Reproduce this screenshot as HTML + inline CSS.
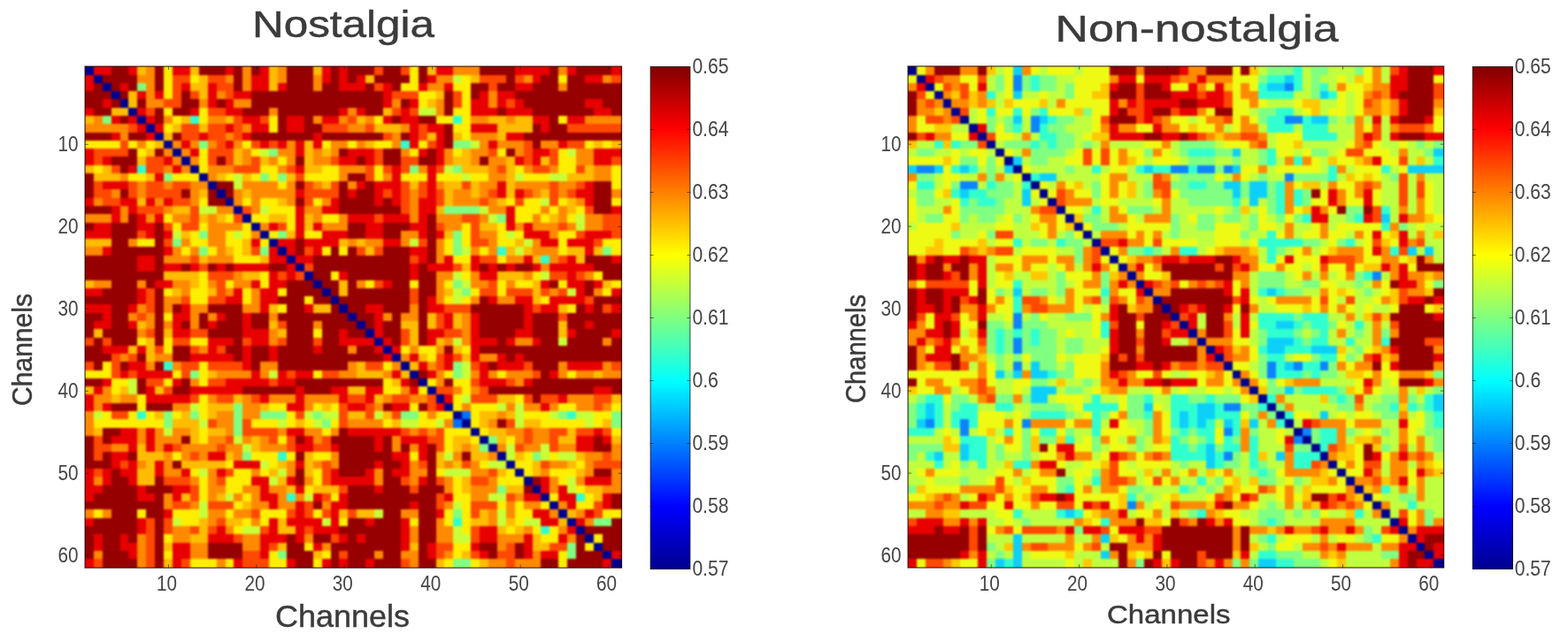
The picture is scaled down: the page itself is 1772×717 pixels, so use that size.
<!DOCTYPE html>
<html lang="en"><head><meta charset="utf-8"><title>Nostalgia vs Non-nostalgia channel connectivity</title>
<style>
html,body{margin:0;padding:0;background:#fff}
body{width:1772px;height:717px;position:relative;overflow:hidden;font-family:"Liberation Sans",sans-serif}
.hm{position:absolute;overflow:hidden}
.cb{position:absolute;background:linear-gradient(to bottom,#800000 0%,#ff0000 12.5%,#ffff00 37.5%,#00ffff 62.5%,#0000ff 87.5%,#00008f 100%)}
#ov{position:absolute;left:0;top:0}
#ov text{font-family:"Liberation Sans",sans-serif}
.h{fill:#3b3b3b;stroke:#3b3b3b;stroke-width:.45px}
.k{fill:#454545}
</style></head><body>
<div class="hm" style="left:96px;top:75px;width:606.9px;height:567.3px">
<svg style="position:absolute;left:-9.915px;top:-9.280px;filter:blur(1.3px);" width="624.645" height="584.640" viewBox="0 0 63 63" preserveAspectRatio="none" shape-rendering="crispEdges">
<rect width="63" height="63" fill="#960000"/>
<path fill="#00008f" d="M0 0h2v1h-2zM0 1h2v1h-2zM2 2h1v1h-1zM3 3h1v1h-1zM4 4h1v1h-1zM5 5h1v1h-1zM6 6h1v1h-1zM7 7h1v1h-1zM8 8h1v1h-1zM9 9h1v1h-1zM10 10h1v1h-1zM11 11h1v1h-1zM12 12h1v1h-1zM13 13h1v1h-1zM14 14h1v1h-1zM15 15h1v1h-1zM16 16h1v1h-1zM17 17h1v1h-1zM18 18h1v1h-1zM19 19h1v1h-1zM20 20h1v1h-1zM21 21h1v1h-1zM22 22h1v1h-1zM23 23h1v1h-1zM24 24h1v1h-1zM25 25h1v1h-1zM26 26h1v1h-1zM27 27h1v1h-1zM28 28h1v1h-1zM29 29h1v1h-1zM30 30h1v1h-1zM31 31h1v1h-1zM32 32h1v1h-1zM33 33h1v1h-1zM34 34h1v1h-1zM35 35h1v1h-1zM36 36h1v1h-1zM37 37h1v1h-1zM38 38h1v1h-1zM39 39h1v1h-1zM40 40h1v1h-1zM41 41h1v1h-1zM42 42h1v1h-1zM43 43h1v1h-1zM44 44h1v1h-1zM45 45h1v1h-1zM46 46h1v1h-1zM47 47h1v1h-1zM48 48h1v1h-1zM49 49h1v1h-1zM50 50h1v1h-1zM51 51h1v1h-1zM52 52h1v1h-1zM53 53h1v1h-1zM54 54h1v1h-1zM55 55h1v1h-1zM56 56h1v1h-1zM57 57h1v1h-1zM58 58h1v1h-1zM59 59h1v1h-1zM60 60h1v1h-1zM61 61h2v1h-2zM61 62h2v1h-2z"/>
<path fill="#e80000" d="M2 0h2v1h-2zM6 0h1v1h-1zM11 0h2v1h-2zM17 0h1v1h-1zM21 0h1v1h-1zM28 0h1v1h-1zM30 0h1v1h-1zM41 0h2v1h-2zM50 0h4v1h-4zM56 0h1v1h-1zM61 0h2v1h-2zM2 1h2v1h-2zM6 1h1v1h-1zM11 1h2v1h-2zM17 1h1v1h-1zM21 1h1v1h-1zM28 1h1v1h-1zM30 1h1v1h-1zM41 1h2v1h-2zM50 1h4v1h-4zM56 1h1v1h-1zM61 1h2v1h-2zM0 2h2v1h-2zM20 2h2v1h-2zM28 2h1v1h-1zM30 2h1v1h-1zM32 2h1v1h-1zM40 2h1v1h-1zM52 2h1v1h-1zM58 2h2v1h-2zM0 3h2v1h-2zM5 3h1v1h-1zM12 3h1v1h-1zM15 3h1v1h-1zM20 3h2v1h-2zM23 3h1v1h-1zM30 3h3v1h-3zM35 3h1v1h-1zM39 3h1v1h-1zM42 3h1v1h-1zM50 3h2v1h-2zM7 4h1v1h-1zM9 4h1v1h-1zM15 4h1v1h-1zM18 4h2v1h-2zM35 4h1v1h-1zM46 4h1v1h-1zM48 4h2v1h-2zM3 5h1v1h-1zM15 5h1v1h-1zM17 5h1v1h-1zM35 5h1v1h-1zM38 5h1v1h-1zM45 5h2v1h-2zM48 5h1v1h-1zM50 5h1v1h-1zM58 5h2v1h-2zM0 6h2v1h-2zM7 6h1v1h-1zM13 6h1v1h-1zM17 6h2v1h-2zM30 6h1v1h-1zM32 6h1v1h-1zM37 6h1v1h-1zM45 6h3v1h-3zM49 6h3v1h-3zM59 6h2v1h-2zM4 7h1v1h-1zM6 7h1v1h-1zM8 7h1v1h-1zM19 7h2v1h-2zM24 7h2v1h-2zM28 7h2v1h-2zM35 7h1v1h-1zM37 7h2v1h-2zM52 7h2v1h-2zM56 7h2v1h-2zM7 8h1v1h-1zM9 8h1v1h-1zM17 8h1v1h-1zM20 8h2v1h-2zM24 8h2v1h-2zM38 8h1v1h-1zM40 8h2v1h-2zM45 8h3v1h-3zM53 8h1v1h-1zM4 9h1v1h-1zM8 9h1v1h-1zM14 9h1v1h-1zM19 9h1v1h-1zM27 9h1v1h-1zM38 9h1v1h-1zM41 9h1v1h-1zM49 9h2v1h-2zM12 10h1v1h-1zM17 10h1v1h-1zM21 10h1v1h-1zM23 10h1v1h-1zM25 10h1v1h-1zM27 10h1v1h-1zM38 10h1v1h-1zM41 10h1v1h-1zM47 10h1v1h-1zM55 10h1v1h-1zM0 11h2v1h-2zM13 11h1v1h-1zM25 11h1v1h-1zM31 11h3v1h-3zM39 11h1v1h-1zM41 11h1v1h-1zM52 11h2v1h-2zM59 11h4v1h-4zM0 12h2v1h-2zM3 12h1v1h-1zM10 12h1v1h-1zM30 12h2v1h-2zM33 12h1v1h-1zM41 12h1v1h-1zM50 12h1v1h-1zM52 12h1v1h-1zM59 12h2v1h-2zM6 13h1v1h-1zM11 13h1v1h-1zM25 13h1v1h-1zM36 13h1v1h-1zM40 13h1v1h-1zM9 14h1v1h-1zM36 14h1v1h-1zM40 14h1v1h-1zM3 15h3v1h-3zM32 15h1v1h-1zM34 15h3v1h-3zM40 15h1v1h-1zM48 15h1v1h-1zM58 15h1v1h-1zM25 16h1v1h-1zM31 16h1v1h-1zM34 16h1v1h-1zM36 16h1v1h-1zM40 16h1v1h-1zM48 16h1v1h-1zM50 16h1v1h-1zM57 16h2v1h-2zM0 17h2v1h-2zM5 17h2v1h-2zM8 17h1v1h-1zM10 17h1v1h-1zM29 17h1v1h-1zM34 17h1v1h-1zM36 17h1v1h-1zM39 17h2v1h-2zM58 17h1v1h-1zM4 18h1v1h-1zM6 18h1v1h-1zM25 18h1v1h-1zM28 18h2v1h-2zM39 18h2v1h-2zM49 18h1v1h-1zM61 18h2v1h-2zM4 19h1v1h-1zM7 19h1v1h-1zM9 19h1v1h-1zM25 19h1v1h-1zM31 19h3v1h-3zM35 19h3v1h-3zM39 19h1v1h-1zM49 19h1v1h-1zM2 20h2v1h-2zM7 20h2v1h-2zM22 20h1v1h-1zM25 20h1v1h-1zM27 20h1v1h-1zM33 20h2v1h-2zM38 20h2v1h-2zM49 20h1v1h-1zM51 20h1v1h-1zM0 21h4v1h-4zM8 21h1v1h-1zM10 21h1v1h-1zM25 21h1v1h-1zM28 21h3v1h-3zM33 21h2v1h-2zM39 21h1v1h-1zM41 21h1v1h-1zM51 21h3v1h-3zM58 21h3v1h-3zM20 22h1v1h-1zM23 22h2v1h-2zM26 22h4v1h-4zM35 22h2v1h-2zM53 22h2v1h-2zM56 22h3v1h-3zM3 23h1v1h-1zM10 23h1v1h-1zM22 23h1v1h-1zM24 23h1v1h-1zM27 23h1v1h-1zM38 23h2v1h-2zM58 23h1v1h-1zM7 24h2v1h-2zM22 24h2v1h-2zM25 24h2v1h-2zM39 24h1v1h-1zM42 24h1v1h-1zM45 24h1v1h-1zM51 24h1v1h-1zM56 24h1v1h-1zM61 24h2v1h-2zM7 25h2v1h-2zM10 25h2v1h-2zM13 25h1v1h-1zM16 25h1v1h-1zM18 25h4v1h-4zM24 25h1v1h-1zM38 25h1v1h-1zM40 25h3v1h-3zM45 25h1v1h-1zM47 25h1v1h-1zM49 25h1v1h-1zM52 25h1v1h-1zM54 25h5v1h-5zM22 26h1v1h-1zM24 26h1v1h-1zM30 26h1v1h-1zM38 26h1v1h-1zM46 26h2v1h-2zM56 26h1v1h-1zM9 27h2v1h-2zM20 27h1v1h-1zM22 27h2v1h-2zM35 27h1v1h-1zM53 27h1v1h-1zM56 27h2v1h-2zM59 27h1v1h-1zM0 28h3v1h-3zM7 28h1v1h-1zM18 28h1v1h-1zM21 28h2v1h-2zM57 28h1v1h-1zM61 28h2v1h-2zM7 29h1v1h-1zM17 29h2v1h-2zM21 29h2v1h-2zM40 29h1v1h-1zM47 29h1v1h-1zM50 29h2v1h-2zM54 29h4v1h-4zM0 30h4v1h-4zM6 30h1v1h-1zM12 30h1v1h-1zM21 30h1v1h-1zM26 30h1v1h-1zM33 30h2v1h-2zM40 30h2v1h-2zM51 30h1v1h-1zM53 30h2v1h-2zM58 30h1v1h-1zM61 30h2v1h-2zM3 31h1v1h-1zM11 31h2v1h-2zM16 31h1v1h-1zM19 31h1v1h-1zM34 31h1v1h-1zM42 31h1v1h-1zM45 31h1v1h-1zM51 31h1v1h-1zM2 32h2v1h-2zM6 32h1v1h-1zM11 32h1v1h-1zM15 32h1v1h-1zM19 32h1v1h-1zM34 32h1v1h-1zM42 32h1v1h-1zM45 32h1v1h-1zM51 32h1v1h-1zM58 32h1v1h-1zM11 33h2v1h-2zM19 33h3v1h-3zM30 33h1v1h-1zM34 33h1v1h-1zM40 33h2v1h-2zM45 33h1v1h-1zM50 33h2v1h-2zM56 33h1v1h-1zM61 33h2v1h-2zM15 34h3v1h-3zM20 34h2v1h-2zM30 34h4v1h-4zM35 34h1v1h-1zM40 34h1v1h-1zM45 34h3v1h-3zM49 34h1v1h-1zM52 34h1v1h-1zM3 35h3v1h-3zM7 35h1v1h-1zM15 35h1v1h-1zM19 35h1v1h-1zM22 35h1v1h-1zM27 35h1v1h-1zM34 35h1v1h-1zM36 35h1v1h-1zM45 35h1v1h-1zM13 36h5v1h-5zM19 36h1v1h-1zM22 36h1v1h-1zM35 36h1v1h-1zM38 36h1v1h-1zM42 36h1v1h-1zM45 36h1v1h-1zM48 36h1v1h-1zM50 36h1v1h-1zM6 37h2v1h-2zM19 37h1v1h-1zM39 37h1v1h-1zM42 37h1v1h-1zM46 37h1v1h-1zM48 37h3v1h-3zM56 37h4v1h-4zM5 38h1v1h-1zM7 38h4v1h-4zM20 38h1v1h-1zM23 38h1v1h-1zM25 38h2v1h-2zM36 38h1v1h-1zM40 38h1v1h-1zM46 38h1v1h-1zM54 38h1v1h-1zM3 39h1v1h-1zM11 39h1v1h-1zM17 39h5v1h-5zM23 39h2v1h-2zM37 39h1v1h-1zM46 39h3v1h-3zM51 39h1v1h-1zM2 40h1v1h-1zM8 40h1v1h-1zM13 40h6v1h-6zM25 40h1v1h-1zM29 40h2v1h-2zM33 40h2v1h-2zM38 40h1v1h-1zM59 40h2v1h-2zM0 41h2v1h-2zM8 41h5v1h-5zM21 41h1v1h-1zM25 41h1v1h-1zM30 41h1v1h-1zM33 41h1v1h-1zM42 41h1v1h-1zM55 41h1v1h-1zM0 42h2v1h-2zM3 42h1v1h-1zM24 42h2v1h-2zM31 42h2v1h-2zM36 42h2v1h-2zM41 42h1v1h-1zM53 42h1v1h-1zM5 45h2v1h-2zM8 45h1v1h-1zM24 45h2v1h-2zM31 45h6v1h-6zM59 45h1v1h-1zM4 46h3v1h-3zM8 46h1v1h-1zM26 46h1v1h-1zM34 46h1v1h-1zM37 46h3v1h-3zM57 46h2v1h-2zM60 46h1v1h-1zM6 47h1v1h-1zM8 47h1v1h-1zM10 47h1v1h-1zM25 47h2v1h-2zM29 47h1v1h-1zM34 47h1v1h-1zM39 47h1v1h-1zM57 47h2v1h-2zM4 48h2v1h-2zM15 48h2v1h-2zM36 48h2v1h-2zM39 48h1v1h-1zM4 49h1v1h-1zM6 49h1v1h-1zM9 49h1v1h-1zM18 49h3v1h-3zM25 49h1v1h-1zM34 49h1v1h-1zM37 49h1v1h-1zM0 50h2v1h-2zM3 50h1v1h-1zM5 50h2v1h-2zM9 50h1v1h-1zM12 50h1v1h-1zM16 50h1v1h-1zM29 50h1v1h-1zM33 50h1v1h-1zM36 50h2v1h-2zM0 51h2v1h-2zM3 51h1v1h-1zM6 51h1v1h-1zM20 51h2v1h-2zM24 51h1v1h-1zM29 51h5v1h-5zM39 51h1v1h-1zM53 51h1v1h-1zM58 51h3v1h-3zM0 52h3v1h-3zM7 52h1v1h-1zM11 52h2v1h-2zM21 52h1v1h-1zM25 52h1v1h-1zM34 52h1v1h-1zM53 52h1v1h-1zM55 52h1v1h-1zM0 53h2v1h-2zM7 53h2v1h-2zM11 53h1v1h-1zM21 53h2v1h-2zM27 53h1v1h-1zM30 53h1v1h-1zM42 53h1v1h-1zM51 53h2v1h-2zM55 53h2v1h-2zM60 53h1v1h-1zM22 54h1v1h-1zM25 54h1v1h-1zM29 54h2v1h-2zM38 54h1v1h-1zM56 54h1v1h-1zM60 54h1v1h-1zM10 55h1v1h-1zM25 55h1v1h-1zM29 55h1v1h-1zM41 55h1v1h-1zM52 55h2v1h-2zM58 55h1v1h-1zM0 56h2v1h-2zM7 56h1v1h-1zM22 56h1v1h-1zM24 56h4v1h-4zM29 56h1v1h-1zM33 56h1v1h-1zM37 56h1v1h-1zM53 56h2v1h-2zM57 56h1v1h-1zM7 57h1v1h-1zM16 57h1v1h-1zM22 57h1v1h-1zM25 57h1v1h-1zM27 57h3v1h-3zM37 57h1v1h-1zM46 57h2v1h-2zM56 57h1v1h-1zM2 58h1v1h-1zM5 58h1v1h-1zM15 58h3v1h-3zM21 58h3v1h-3zM25 58h1v1h-1zM30 58h1v1h-1zM32 58h1v1h-1zM37 58h1v1h-1zM46 58h2v1h-2zM51 58h1v1h-1zM55 58h1v1h-1zM2 59h1v1h-1zM5 59h2v1h-2zM11 59h2v1h-2zM21 59h1v1h-1zM27 59h1v1h-1zM37 59h1v1h-1zM40 59h1v1h-1zM45 59h1v1h-1zM51 59h1v1h-1zM6 60h1v1h-1zM11 60h2v1h-2zM21 60h1v1h-1zM40 60h1v1h-1zM46 60h1v1h-1zM51 60h1v1h-1zM53 60h2v1h-2zM61 60h2v1h-2zM0 61h2v1h-2zM11 61h1v1h-1zM18 61h1v1h-1zM24 61h1v1h-1zM28 61h1v1h-1zM30 61h1v1h-1zM33 61h1v1h-1zM60 61h1v1h-1zM0 62h2v1h-2zM11 62h1v1h-1zM18 62h1v1h-1zM24 62h1v1h-1zM28 62h1v1h-1zM30 62h1v1h-1zM33 62h1v1h-1zM60 62h1v1h-1z"/>
<path fill="#ffbc00" d="M7 0h1v1h-1zM13 0h1v1h-1zM22 0h1v1h-1zM27 0h1v1h-1zM40 0h1v1h-1zM7 1h1v1h-1zM13 1h1v1h-1zM22 1h1v1h-1zM27 1h1v1h-1zM40 1h1v1h-1zM14 2h1v1h-1zM22 2h1v1h-1zM33 2h1v1h-1zM45 2h1v1h-1zM13 3h2v1h-2zM22 3h1v1h-1zM6 4h1v1h-1zM14 4h1v1h-1zM41 4h1v1h-1zM6 5h1v1h-1zM40 5h1v1h-1zM4 6h2v1h-2zM35 6h1v1h-1zM0 7h2v1h-2zM12 7h1v1h-1zM17 7h1v1h-1zM32 7h1v1h-1zM47 7h2v1h-2zM50 7h2v1h-2zM11 8h1v1h-1zM14 8h1v1h-1zM34 8h3v1h-3zM48 8h4v1h-4zM10 9h1v1h-1zM40 9h1v1h-1zM43 9h1v1h-1zM48 9h1v1h-1zM9 10h1v1h-1zM26 10h1v1h-1zM33 10h1v1h-1zM59 10h1v1h-1zM61 10h2v1h-2zM8 11h1v1h-1zM18 11h1v1h-1zM26 11h1v1h-1zM28 11h1v1h-1zM44 11h1v1h-1zM7 12h1v1h-1zM18 12h1v1h-1zM21 12h1v1h-1zM26 12h1v1h-1zM43 12h2v1h-2zM49 12h1v1h-1zM53 12h1v1h-1zM0 13h2v1h-2zM3 13h1v1h-1zM26 13h2v1h-2zM44 13h3v1h-3zM49 13h1v1h-1zM58 13h1v1h-1zM2 14h3v1h-3zM8 14h1v1h-1zM16 14h1v1h-1zM19 14h1v1h-1zM24 14h1v1h-1zM49 14h1v1h-1zM56 14h3v1h-3zM28 15h1v1h-1zM38 15h1v1h-1zM42 15h2v1h-2zM45 15h1v1h-1zM49 15h1v1h-1zM14 16h1v1h-1zM19 16h1v1h-1zM42 16h1v1h-1zM45 16h1v1h-1zM49 16h1v1h-1zM53 16h1v1h-1zM7 17h1v1h-1zM23 17h1v1h-1zM42 17h1v1h-1zM48 17h1v1h-1zM56 17h1v1h-1zM11 18h2v1h-2zM41 18h1v1h-1zM56 18h1v1h-1zM14 19h1v1h-1zM16 19h1v1h-1zM22 19h2v1h-2zM26 19h1v1h-1zM54 19h1v1h-1zM26 20h1v1h-1zM46 20h2v1h-2zM12 21h1v1h-1zM24 21h1v1h-1zM42 21h1v1h-1zM0 22h4v1h-4zM19 22h1v1h-1zM30 22h1v1h-1zM32 22h1v1h-1zM50 22h1v1h-1zM17 23h1v1h-1zM19 23h1v1h-1zM33 23h1v1h-1zM49 23h1v1h-1zM51 23h1v1h-1zM56 23h2v1h-2zM59 23h1v1h-1zM14 24h1v1h-1zM21 24h1v1h-1zM52 24h1v1h-1zM57 24h1v1h-1zM44 25h1v1h-1zM10 26h4v1h-4zM19 26h2v1h-2zM48 26h3v1h-3zM0 27h2v1h-2zM13 27h1v1h-1zM30 27h1v1h-1zM52 27h1v1h-1zM60 27h1v1h-1zM11 28h1v1h-1zM15 28h1v1h-1zM30 28h1v1h-1zM42 28h1v1h-1zM52 28h1v1h-1zM52 29h1v1h-1zM22 30h1v1h-1zM27 30h2v1h-2zM55 30h1v1h-1zM40 31h1v1h-1zM43 31h1v1h-1zM7 32h1v1h-1zM22 32h1v1h-1zM37 32h2v1h-2zM40 32h1v1h-1zM43 32h1v1h-1zM55 32h1v1h-1zM2 33h1v1h-1zM10 33h1v1h-1zM23 33h1v1h-1zM38 33h1v1h-1zM55 33h1v1h-1zM8 34h1v1h-1zM38 34h1v1h-1zM41 34h1v1h-1zM6 35h1v1h-1zM8 35h1v1h-1zM43 35h1v1h-1zM8 36h1v1h-1zM39 36h1v1h-1zM44 36h1v1h-1zM32 37h1v1h-1zM38 37h1v1h-1zM15 38h1v1h-1zM32 38h3v1h-3zM37 38h1v1h-1zM59 38h1v1h-1zM36 39h1v1h-1zM0 40h2v1h-2zM5 40h1v1h-1zM9 40h1v1h-1zM31 40h2v1h-2zM4 41h1v1h-1zM18 41h1v1h-1zM34 41h1v1h-1zM48 41h2v1h-2zM61 41h2v1h-2zM15 42h3v1h-3zM21 42h1v1h-1zM28 42h1v1h-1zM9 43h1v1h-1zM12 43h1v1h-1zM15 43h1v1h-1zM31 43h2v1h-2zM35 43h1v1h-1zM46 43h2v1h-2zM49 43h1v1h-1zM11 44h3v1h-3zM25 44h1v1h-1zM36 44h1v1h-1zM46 44h1v1h-1zM51 44h2v1h-2zM60 44h1v1h-1zM2 45h1v1h-1zM13 45h1v1h-1zM15 45h2v1h-2zM47 45h2v1h-2zM56 45h1v1h-1zM13 46h1v1h-1zM20 46h1v1h-1zM43 46h2v1h-2zM48 46h1v1h-1zM55 46h2v1h-2zM61 46h2v1h-2zM7 47h1v1h-1zM20 47h1v1h-1zM43 47h1v1h-1zM45 47h1v1h-1zM7 48h3v1h-3zM17 48h1v1h-1zM26 48h1v1h-1zM41 48h1v1h-1zM45 48h2v1h-2zM50 48h1v1h-1zM57 48h1v1h-1zM8 49h1v1h-1zM12 49h5v1h-5zM23 49h1v1h-1zM26 49h1v1h-1zM41 49h1v1h-1zM43 49h1v1h-1zM52 49h1v1h-1zM56 49h1v1h-1zM7 50h2v1h-2zM22 50h1v1h-1zM26 50h1v1h-1zM48 50h1v1h-1zM52 50h1v1h-1zM57 50h1v1h-1zM7 51h2v1h-2zM23 51h1v1h-1zM44 51h1v1h-1zM24 52h1v1h-1zM27 52h3v1h-3zM44 52h1v1h-1zM49 52h2v1h-2zM58 52h2v1h-2zM12 53h1v1h-1zM16 53h1v1h-1zM59 53h1v1h-1zM19 54h1v1h-1zM30 55h1v1h-1zM32 55h2v1h-2zM46 55h1v1h-1zM56 55h1v1h-1zM14 56h1v1h-1zM17 56h2v1h-2zM23 56h1v1h-1zM45 56h2v1h-2zM49 56h1v1h-1zM55 56h1v1h-1zM14 57h1v1h-1zM23 57h2v1h-2zM48 57h1v1h-1zM50 57h1v1h-1zM13 58h2v1h-2zM52 58h1v1h-1zM10 59h1v1h-1zM23 59h1v1h-1zM38 59h1v1h-1zM52 59h2v1h-2zM27 60h1v1h-1zM44 60h1v1h-1zM10 61h1v1h-1zM41 61h1v1h-1zM46 61h1v1h-1zM10 62h1v1h-1zM41 62h1v1h-1zM46 62h1v1h-1z"/>
<path fill="#ff8a00" d="M8 0h1v1h-1zM19 0h1v1h-1zM23 0h1v1h-1zM43 0h3v1h-3zM55 0h1v1h-1zM8 1h1v1h-1zM19 1h1v1h-1zM23 1h1v1h-1zM43 1h3v1h-3zM55 1h1v1h-1zM7 2h2v1h-2zM17 2h1v1h-1zM19 2h1v1h-1zM23 2h1v1h-1zM27 2h1v1h-1zM41 2h2v1h-2zM51 2h1v1h-1zM60 2h1v1h-1zM8 3h1v1h-1zM19 3h1v1h-1zM27 3h1v1h-1zM40 3h2v1h-2zM55 3h1v1h-1zM8 4h1v1h-1zM16 4h1v1h-1zM47 4h1v1h-1zM8 5h2v1h-2zM14 5h1v1h-1zM18 5h2v1h-2zM36 5h1v1h-1zM41 5h1v1h-1zM47 5h1v1h-1zM22 6h1v1h-1zM31 6h1v1h-1zM41 6h1v1h-1zM2 7h1v1h-1zM10 7h1v1h-1zM15 7h2v1h-2zM27 7h1v1h-1zM30 7h1v1h-1zM33 7h1v1h-1zM45 7h2v1h-2zM49 7h1v1h-1zM58 7h5v1h-5zM0 8h6v1h-6zM19 8h1v1h-1zM31 8h2v1h-2zM37 8h1v1h-1zM5 9h1v1h-1zM17 9h1v1h-1zM36 9h1v1h-1zM45 9h3v1h-3zM7 10h1v1h-1zM11 10h1v1h-1zM13 10h1v1h-1zM15 10h1v1h-1zM18 10h1v1h-1zM24 10h1v1h-1zM29 10h2v1h-2zM32 10h1v1h-1zM36 10h1v1h-1zM46 10h1v1h-1zM48 10h3v1h-3zM53 10h2v1h-2zM10 11h1v1h-1zM12 11h1v1h-1zM19 11h1v1h-1zM23 11h2v1h-2zM27 11h1v1h-1zM29 11h1v1h-1zM37 11h1v1h-1zM42 11h1v1h-1zM45 11h2v1h-2zM50 11h1v1h-1zM57 11h2v1h-2zM11 12h1v1h-1zM13 12h1v1h-1zM19 12h1v1h-1zM22 12h1v1h-1zM24 12h1v1h-1zM27 12h2v1h-2zM42 12h1v1h-1zM45 12h1v1h-1zM47 12h2v1h-2zM57 12h2v1h-2zM10 13h1v1h-1zM12 13h1v1h-1zM15 13h3v1h-3zM23 13h1v1h-1zM30 13h3v1h-3zM39 13h1v1h-1zM47 13h1v1h-1zM51 13h1v1h-1zM54 13h1v1h-1zM59 13h2v1h-2zM5 14h1v1h-1zM15 14h1v1h-1zM30 14h1v1h-1zM35 14h1v1h-1zM47 14h2v1h-2zM59 14h2v1h-2zM7 15h1v1h-1zM10 15h1v1h-1zM13 15h2v1h-2zM19 15h4v1h-4zM24 15h1v1h-1zM27 15h1v1h-1zM31 15h1v1h-1zM41 15h1v1h-1zM46 15h2v1h-2zM50 15h4v1h-4zM55 15h2v1h-2zM4 16h1v1h-1zM7 16h1v1h-1zM13 16h1v1h-1zM18 16h1v1h-1zM20 16h5v1h-5zM38 16h1v1h-1zM43 16h2v1h-2zM46 16h1v1h-1zM52 16h1v1h-1zM55 16h1v1h-1zM61 16h2v1h-2zM2 17h1v1h-1zM9 17h1v1h-1zM13 17h1v1h-1zM18 17h1v1h-1zM20 17h1v1h-1zM24 17h1v1h-1zM28 17h1v1h-1zM38 17h1v1h-1zM43 17h3v1h-3zM47 17h1v1h-1zM57 17h1v1h-1zM5 18h1v1h-1zM10 18h1v1h-1zM16 18h2v1h-2zM20 18h1v1h-1zM26 18h2v1h-2zM38 18h1v1h-1zM47 18h2v1h-2zM53 18h1v1h-1zM55 18h1v1h-1zM0 19h4v1h-4zM5 19h1v1h-1zM8 19h1v1h-1zM11 19h2v1h-2zM15 19h1v1h-1zM27 19h1v1h-1zM30 19h1v1h-1zM38 19h1v1h-1zM41 19h3v1h-3zM46 19h1v1h-1zM52 19h1v1h-1zM55 19h1v1h-1zM58 19h2v1h-2zM15 20h4v1h-4zM21 20h1v1h-1zM28 20h3v1h-3zM42 20h2v1h-2zM50 20h1v1h-1zM52 20h3v1h-3zM56 20h1v1h-1zM58 20h2v1h-2zM15 21h2v1h-2zM20 21h1v1h-1zM37 21h2v1h-2zM46 21h2v1h-2zM54 21h1v1h-1zM6 22h1v1h-1zM12 22h1v1h-1zM15 22h2v1h-2zM31 22h1v1h-1zM33 22h2v1h-2zM37 22h1v1h-1zM41 22h1v1h-1zM47 22h1v1h-1zM52 22h1v1h-1zM0 23h3v1h-3zM11 23h1v1h-1zM13 23h1v1h-1zM16 23h1v1h-1zM41 23h1v1h-1zM45 23h1v1h-1zM47 23h1v1h-1zM52 23h3v1h-3zM10 24h3v1h-3zM15 24h3v1h-3zM41 24h1v1h-1zM49 24h2v1h-2zM54 24h1v1h-1zM53 25h1v1h-1zM18 26h1v1h-1zM41 26h2v1h-2zM45 26h1v1h-1zM51 26h1v1h-1zM58 26h1v1h-1zM2 27h2v1h-2zM7 27h1v1h-1zM11 27h2v1h-2zM15 27h1v1h-1zM18 27h2v1h-2zM32 27h1v1h-1zM41 27h1v1h-1zM45 27h2v1h-2zM49 27h1v1h-1zM12 28h1v1h-1zM17 28h1v1h-1zM20 28h1v1h-1zM41 28h1v1h-1zM54 28h1v1h-1zM59 28h1v1h-1zM10 29h2v1h-2zM20 29h1v1h-1zM41 29h1v1h-1zM45 29h1v1h-1zM48 29h2v1h-2zM7 30h1v1h-1zM10 30h1v1h-1zM13 30h2v1h-2zM19 30h2v1h-2zM38 30h1v1h-1zM6 31h1v1h-1zM8 31h1v1h-1zM13 31h1v1h-1zM15 31h1v1h-1zM22 31h1v1h-1zM35 31h1v1h-1zM37 31h2v1h-2zM44 31h1v1h-1zM8 32h1v1h-1zM10 32h1v1h-1zM13 32h1v1h-1zM27 32h1v1h-1zM44 32h1v1h-1zM7 33h1v1h-1zM22 33h1v1h-1zM44 33h1v1h-1zM22 34h1v1h-1zM42 34h1v1h-1zM44 34h1v1h-1zM50 34h2v1h-2zM60 34h1v1h-1zM14 35h1v1h-1zM31 35h1v1h-1zM38 35h1v1h-1zM41 35h1v1h-1zM5 36h1v1h-1zM9 36h2v1h-2zM37 36h1v1h-1zM46 36h2v1h-2zM8 37h1v1h-1zM11 37h1v1h-1zM21 37h2v1h-2zM31 37h1v1h-1zM36 37h1v1h-1zM40 37h1v1h-1zM55 37h1v1h-1zM60 37h1v1h-1zM16 38h4v1h-4zM21 38h1v1h-1zM30 38h2v1h-2zM35 38h1v1h-1zM41 38h1v1h-1zM45 38h1v1h-1zM47 38h1v1h-1zM49 38h3v1h-3zM55 38h1v1h-1zM57 38h2v1h-2zM60 38h3v1h-3zM13 39h1v1h-1zM41 39h1v1h-1zM50 39h1v1h-1zM3 40h1v1h-1zM37 40h1v1h-1zM43 40h1v1h-1zM45 40h1v1h-1zM2 41h2v1h-2zM5 41h2v1h-2zM15 41h1v1h-1zM19 41h1v1h-1zM22 41h3v1h-3zM26 41h4v1h-4zM35 41h1v1h-1zM38 41h2v1h-2zM56 41h3v1h-3zM2 42h1v1h-1zM11 42h2v1h-2zM19 42h2v1h-2zM26 42h1v1h-1zM34 42h1v1h-1zM44 42h1v1h-1zM49 42h1v1h-1zM51 42h2v1h-2zM54 42h1v1h-1zM57 42h2v1h-2zM60 42h1v1h-1zM0 43h2v1h-2zM16 43h2v1h-2zM19 43h2v1h-2zM40 43h1v1h-1zM48 43h1v1h-1zM0 44h2v1h-2zM16 44h2v1h-2zM31 44h4v1h-4zM42 44h1v1h-1zM47 44h1v1h-1zM0 45h2v1h-2zM7 45h1v1h-1zM9 45h1v1h-1zM11 45h2v1h-2zM17 45h1v1h-1zM23 45h1v1h-1zM26 45h2v1h-2zM29 45h1v1h-1zM38 45h1v1h-1zM40 45h1v1h-1zM49 45h2v1h-2zM52 45h2v1h-2zM7 46h1v1h-1zM9 46h3v1h-3zM15 46h2v1h-2zM19 46h1v1h-1zM21 46h1v1h-1zM27 46h1v1h-1zM36 46h1v1h-1zM50 46h1v1h-1zM52 46h2v1h-2zM4 47h2v1h-2zM9 47h1v1h-1zM12 47h4v1h-4zM17 47h2v1h-2zM21 47h3v1h-3zM36 47h1v1h-1zM38 47h1v1h-1zM44 47h1v1h-1zM48 47h1v1h-1zM51 47h2v1h-2zM55 47h2v1h-2zM61 47h2v1h-2zM10 48h1v1h-1zM12 48h1v1h-1zM14 48h1v1h-1zM18 48h1v1h-1zM29 48h1v1h-1zM43 48h1v1h-1zM47 48h1v1h-1zM58 48h2v1h-2zM61 48h2v1h-2zM7 49h1v1h-1zM10 49h1v1h-1zM24 49h1v1h-1zM27 49h1v1h-1zM29 49h1v1h-1zM38 49h1v1h-1zM42 49h1v1h-1zM45 49h1v1h-1zM54 49h2v1h-2zM58 49h1v1h-1zM10 50h2v1h-2zM15 50h1v1h-1zM20 50h1v1h-1zM24 50h1v1h-1zM34 50h1v1h-1zM38 50h2v1h-2zM45 50h2v1h-2zM53 50h1v1h-1zM58 50h1v1h-1zM61 50h2v1h-2zM2 51h1v1h-1zM13 51h1v1h-1zM15 51h1v1h-1zM26 51h1v1h-1zM34 51h1v1h-1zM38 51h1v1h-1zM42 51h1v1h-1zM47 51h1v1h-1zM54 51h1v1h-1zM57 51h1v1h-1zM61 51h2v1h-2zM15 52h2v1h-2zM19 52h2v1h-2zM22 52h2v1h-2zM42 52h1v1h-1zM45 52h3v1h-3zM54 52h1v1h-1zM60 52h3v1h-3zM10 53h1v1h-1zM15 53h1v1h-1zM18 53h1v1h-1zM20 53h1v1h-1zM23 53h1v1h-1zM25 53h1v1h-1zM45 53h2v1h-2zM50 53h1v1h-1zM10 54h1v1h-1zM13 54h1v1h-1zM20 54h2v1h-2zM23 54h2v1h-2zM28 54h1v1h-1zM42 54h1v1h-1zM49 54h1v1h-1zM51 54h2v1h-2zM55 54h1v1h-1zM0 55h2v1h-2zM3 55h1v1h-1zM15 55h2v1h-2zM18 55h2v1h-2zM37 55h2v1h-2zM47 55h1v1h-1zM49 55h1v1h-1zM54 55h1v1h-1zM57 55h1v1h-1zM15 56h1v1h-1zM20 56h1v1h-1zM41 56h1v1h-1zM47 56h1v1h-1zM58 56h1v1h-1zM11 57h2v1h-2zM17 57h1v1h-1zM38 57h1v1h-1zM41 57h2v1h-2zM51 57h1v1h-1zM55 57h1v1h-1zM7 58h1v1h-1zM11 58h2v1h-2zM19 58h2v1h-2zM26 58h1v1h-1zM38 58h1v1h-1zM41 58h2v1h-2zM48 58h3v1h-3zM56 58h1v1h-1zM7 59h1v1h-1zM13 59h2v1h-2zM19 59h2v1h-2zM28 59h1v1h-1zM48 59h1v1h-1zM2 60h1v1h-1zM7 60h1v1h-1zM13 60h2v1h-2zM34 60h1v1h-1zM37 60h2v1h-2zM42 60h1v1h-1zM52 60h1v1h-1zM7 61h1v1h-1zM16 61h1v1h-1zM38 61h1v1h-1zM47 61h2v1h-2zM50 61h3v1h-3zM7 62h1v1h-1zM16 62h1v1h-1zM38 62h1v1h-1zM47 62h2v1h-2zM50 62h3v1h-3z"/>
<path fill="#ffee00" d="M10 0h1v1h-1zM38 0h1v1h-1zM10 1h1v1h-1zM38 1h1v1h-1zM10 2h1v1h-1zM13 2h1v1h-1zM38 2h1v1h-1zM44 2h1v1h-1zM55 2h1v1h-1zM10 3h1v1h-1zM37 3h2v1h-2zM43 3h2v1h-2zM10 4h1v1h-1zM39 4h2v1h-2zM44 4h1v1h-1zM39 5h1v1h-1zM44 5h1v1h-1zM10 6h1v1h-1zM14 6h1v1h-1zM43 6h2v1h-2zM11 7h1v1h-1zM14 7h1v1h-1zM22 7h1v1h-1zM34 7h1v1h-1zM41 7h2v1h-2zM44 7h1v1h-1zM55 7h1v1h-1zM10 8h1v1h-1zM22 8h1v1h-1zM43 8h2v1h-2zM44 9h1v1h-1zM0 10h5v1h-5zM6 10h1v1h-1zM8 10h1v1h-1zM19 10h1v1h-1zM28 10h1v1h-1zM31 10h1v1h-1zM34 10h2v1h-2zM39 10h1v1h-1zM58 10h1v1h-1zM60 10h1v1h-1zM7 11h1v1h-1zM14 11h1v1h-1zM20 11h1v1h-1zM38 11h1v1h-1zM43 11h1v1h-1zM48 11h1v1h-1zM55 11h1v1h-1zM14 12h1v1h-1zM23 12h1v1h-1zM55 12h2v1h-2zM2 13h1v1h-1zM14 13h1v1h-1zM21 13h2v1h-2zM28 13h2v1h-2zM34 13h1v1h-1zM50 13h1v1h-1zM55 13h2v1h-2zM61 13h2v1h-2zM6 14h2v1h-2zM11 14h3v1h-3zM17 14h1v1h-1zM20 14h1v1h-1zM22 14h1v1h-1zM26 14h4v1h-4zM34 14h1v1h-1zM37 14h3v1h-3zM41 14h3v1h-3zM45 14h2v1h-2zM51 14h3v1h-3zM61 14h2v1h-2zM23 15h1v1h-1zM61 15h2v1h-2zM14 17h1v1h-1zM19 17h1v1h-1zM21 17h2v1h-2zM27 17h1v1h-1zM49 17h1v1h-1zM51 17h2v1h-2zM55 17h1v1h-1zM61 17h2v1h-2zM22 18h3v1h-3zM50 18h3v1h-3zM54 18h1v1h-1zM57 18h1v1h-1zM10 19h1v1h-1zM17 19h1v1h-1zM20 19h2v1h-2zM24 19h1v1h-1zM28 19h2v1h-2zM50 19h2v1h-2zM53 19h1v1h-1zM56 19h1v1h-1zM11 20h1v1h-1zM14 20h1v1h-1zM19 20h1v1h-1zM24 20h1v1h-1zM44 20h1v1h-1zM48 20h1v1h-1zM13 21h1v1h-1zM17 21h1v1h-1zM19 21h1v1h-1zM22 21h1v1h-1zM26 21h2v1h-2zM44 21h1v1h-1zM48 21h1v1h-1zM50 21h1v1h-1zM55 21h2v1h-2zM7 22h2v1h-2zM13 22h2v1h-2zM17 22h2v1h-2zM21 22h1v1h-1zM42 22h1v1h-1zM44 22h1v1h-1zM48 22h2v1h-2zM55 22h1v1h-1zM60 22h3v1h-3zM12 23h1v1h-1zM15 23h1v1h-1zM18 23h1v1h-1zM28 23h1v1h-1zM30 23h1v1h-1zM42 23h1v1h-1zM46 23h1v1h-1zM55 23h1v1h-1zM61 23h2v1h-2zM18 24h3v1h-3zM43 24h2v1h-2zM48 24h1v1h-1zM14 26h1v1h-1zM21 26h1v1h-1zM29 26h1v1h-1zM44 26h1v1h-1zM52 26h1v1h-1zM59 26h1v1h-1zM14 27h1v1h-1zM17 27h1v1h-1zM21 27h1v1h-1zM33 27h1v1h-1zM38 27h1v1h-1zM42 27h1v1h-1zM48 27h1v1h-1zM50 27h2v1h-2zM55 27h1v1h-1zM61 27h2v1h-2zM10 28h1v1h-1zM13 28h2v1h-2zM19 28h1v1h-1zM23 28h1v1h-1zM45 28h1v1h-1zM48 28h1v1h-1zM60 28h1v1h-1zM13 29h2v1h-2zM19 29h1v1h-1zM26 29h1v1h-1zM42 29h1v1h-1zM44 29h1v1h-1zM53 29h1v1h-1zM23 30h1v1h-1zM56 30h1v1h-1zM10 31h1v1h-1zM27 33h1v1h-1zM7 34h1v1h-1zM10 34h1v1h-1zM13 34h2v1h-2zM10 35h1v1h-1zM37 35h1v1h-1zM39 35h2v1h-2zM44 35h1v1h-1zM40 36h1v1h-1zM3 37h1v1h-1zM14 37h1v1h-1zM35 37h1v1h-1zM0 38h4v1h-4zM11 38h1v1h-1zM14 38h1v1h-1zM27 38h1v1h-1zM42 38h1v1h-1zM48 38h1v1h-1zM56 38h1v1h-1zM4 39h2v1h-2zM10 39h1v1h-1zM14 39h1v1h-1zM35 39h1v1h-1zM40 39h1v1h-1zM43 39h2v1h-2zM4 40h1v1h-1zM35 40h2v1h-2zM39 40h1v1h-1zM44 40h1v1h-1zM7 41h1v1h-1zM14 41h1v1h-1zM43 41h1v1h-1zM50 41h1v1h-1zM7 42h1v1h-1zM14 42h1v1h-1zM22 42h2v1h-2zM27 42h1v1h-1zM29 42h1v1h-1zM38 42h1v1h-1zM43 42h1v1h-1zM45 42h3v1h-3zM55 42h2v1h-2zM61 42h2v1h-2zM3 43h1v1h-1zM6 43h1v1h-1zM8 43h1v1h-1zM11 43h1v1h-1zM14 43h1v1h-1zM24 43h1v1h-1zM39 43h1v1h-1zM41 43h2v1h-2zM45 43h1v1h-1zM51 43h3v1h-3zM59 43h2v1h-2zM2 44h8v1h-8zM20 44h3v1h-3zM24 44h1v1h-1zM26 44h1v1h-1zM29 44h1v1h-1zM35 44h1v1h-1zM39 44h2v1h-2zM45 44h1v1h-1zM53 44h5v1h-5zM59 44h1v1h-1zM14 45h1v1h-1zM28 45h1v1h-1zM42 45h3v1h-3zM46 45h1v1h-1zM61 45h2v1h-2zM14 46h1v1h-1zM23 46h1v1h-1zM42 46h1v1h-1zM45 46h1v1h-1zM49 46h1v1h-1zM42 47h1v1h-1zM11 48h1v1h-1zM20 48h3v1h-3zM24 48h1v1h-1zM27 48h2v1h-2zM38 48h1v1h-1zM51 48h1v1h-1zM54 48h1v1h-1zM17 49h1v1h-1zM22 49h1v1h-1zM46 49h1v1h-1zM50 49h2v1h-2zM57 49h1v1h-1zM13 50h1v1h-1zM18 50h2v1h-2zM21 50h1v1h-1zM27 50h1v1h-1zM41 50h1v1h-1zM49 50h1v1h-1zM51 50h1v1h-1zM54 50h3v1h-3zM14 51h1v1h-1zM17 51h3v1h-3zM27 51h1v1h-1zM43 51h1v1h-1zM48 51h3v1h-3zM55 51h1v1h-1zM14 52h1v1h-1zM17 52h2v1h-2zM26 52h1v1h-1zM43 52h1v1h-1zM57 52h1v1h-1zM14 53h1v1h-1zM19 53h1v1h-1zM29 53h1v1h-1zM43 53h2v1h-2zM54 53h1v1h-1zM58 53h1v1h-1zM18 54h1v1h-1zM44 54h1v1h-1zM48 54h1v1h-1zM50 54h1v1h-1zM53 54h1v1h-1zM57 54h2v1h-2zM2 55h1v1h-1zM7 55h1v1h-1zM11 55h3v1h-3zM17 55h1v1h-1zM21 55h3v1h-3zM27 55h1v1h-1zM42 55h1v1h-1zM44 55h1v1h-1zM50 55h2v1h-2zM60 55h3v1h-3zM12 56h2v1h-2zM19 56h1v1h-1zM21 56h1v1h-1zM30 56h1v1h-1zM38 56h1v1h-1zM42 56h1v1h-1zM44 56h1v1h-1zM50 56h1v1h-1zM18 57h1v1h-1zM44 57h1v1h-1zM49 57h1v1h-1zM52 57h1v1h-1zM54 57h1v1h-1zM10 58h1v1h-1zM53 58h2v1h-2zM59 58h1v1h-1zM26 59h1v1h-1zM43 59h2v1h-2zM58 59h1v1h-1zM10 60h1v1h-1zM22 60h1v1h-1zM28 60h1v1h-1zM43 60h1v1h-1zM55 60h1v1h-1zM13 61h3v1h-3zM17 61h1v1h-1zM22 61h2v1h-2zM27 61h1v1h-1zM42 61h1v1h-1zM45 61h1v1h-1zM55 61h1v1h-1zM13 62h3v1h-3zM17 62h1v1h-1zM22 62h2v1h-2zM27 62h1v1h-1zM42 62h1v1h-1zM45 62h1v1h-1zM55 62h1v1h-1z"/>
<path fill="#ff4800" d="M34 0h1v1h-1zM37 0h1v1h-1zM34 1h1v1h-1zM37 1h1v1h-1zM11 2h2v1h-2zM15 2h2v1h-2zM46 2h3v1h-3zM50 2h1v1h-1zM61 2h2v1h-2zM11 3h1v1h-1zM16 3h2v1h-2zM34 3h1v1h-1zM47 3h1v1h-1zM11 4h1v1h-1zM13 4h1v1h-1zM17 4h1v1h-1zM36 4h3v1h-3zM43 4h1v1h-1zM10 5h2v1h-2zM43 5h1v1h-1zM49 5h1v1h-1zM8 6h1v1h-1zM15 6h2v1h-2zM36 6h1v1h-1zM38 6h1v1h-1zM18 7h1v1h-1zM21 7h1v1h-1zM31 7h1v1h-1zM6 8h1v1h-1zM12 8h2v1h-2zM15 8h2v1h-2zM18 8h1v1h-1zM28 8h3v1h-3zM33 8h1v1h-1zM39 8h1v1h-1zM56 8h7v1h-7zM12 9h2v1h-2zM15 9h2v1h-2zM18 9h1v1h-1zM35 9h1v1h-1zM39 9h1v1h-1zM5 10h1v1h-1zM16 10h1v1h-1zM20 10h1v1h-1zM22 10h1v1h-1zM40 10h1v1h-1zM51 10h1v1h-1zM56 10h2v1h-2zM2 11h4v1h-4zM15 11h3v1h-3zM34 11h1v1h-1zM47 11h1v1h-1zM51 11h1v1h-1zM54 11h1v1h-1zM2 12h1v1h-1zM8 12h2v1h-2zM15 12h1v1h-1zM17 12h1v1h-1zM20 12h1v1h-1zM29 12h1v1h-1zM34 12h1v1h-1zM37 12h2v1h-2zM51 12h1v1h-1zM54 12h1v1h-1zM61 12h2v1h-2zM4 13h1v1h-1zM8 13h2v1h-2zM18 13h3v1h-3zM24 13h1v1h-1zM33 13h1v1h-1zM35 13h1v1h-1zM37 13h1v1h-1zM41 13h1v1h-1zM48 13h1v1h-1zM52 13h2v1h-2zM57 13h1v1h-1zM25 14h1v1h-1zM33 14h1v1h-1zM2 15h1v1h-1zM6 15h1v1h-1zM8 15h2v1h-2zM11 15h2v1h-2zM26 15h1v1h-1zM29 15h1v1h-1zM37 15h1v1h-1zM39 15h1v1h-1zM44 15h1v1h-1zM54 15h1v1h-1zM57 15h1v1h-1zM2 16h2v1h-2zM6 16h1v1h-1zM8 16h4v1h-4zM26 16h4v1h-4zM35 16h1v1h-1zM37 16h1v1h-1zM39 16h1v1h-1zM41 16h1v1h-1zM47 16h1v1h-1zM51 16h1v1h-1zM54 16h1v1h-1zM56 16h1v1h-1zM3 17h2v1h-2zM11 17h2v1h-2zM26 17h1v1h-1zM37 17h1v1h-1zM41 17h1v1h-1zM46 17h1v1h-1zM50 17h1v1h-1zM54 17h1v1h-1zM7 18h3v1h-3zM13 18h1v1h-1zM19 18h1v1h-1zM37 18h1v1h-1zM58 18h1v1h-1zM13 19h1v1h-1zM18 19h1v1h-1zM34 19h1v1h-1zM44 19h2v1h-2zM60 19h3v1h-3zM10 20h1v1h-1zM12 20h2v1h-2zM23 20h1v1h-1zM41 20h1v1h-1zM45 20h1v1h-1zM55 20h1v1h-1zM60 20h3v1h-3zM7 21h1v1h-1zM45 21h1v1h-1zM57 21h1v1h-1zM61 21h2v1h-2zM10 22h1v1h-1zM39 22h1v1h-1zM45 22h2v1h-2zM59 22h1v1h-1zM20 23h1v1h-1zM26 23h1v1h-1zM32 23h1v1h-1zM34 23h1v1h-1zM13 24h1v1h-1zM38 24h1v1h-1zM46 24h2v1h-2zM55 24h1v1h-1zM14 25h1v1h-1zM26 25h1v1h-1zM43 25h1v1h-1zM15 26h3v1h-3zM23 26h1v1h-1zM25 26h1v1h-1zM54 26h2v1h-2zM57 26h1v1h-1zM16 27h1v1h-1zM34 27h1v1h-1zM47 27h1v1h-1zM8 28h1v1h-1zM16 28h1v1h-1zM38 28h1v1h-1zM46 28h2v1h-2zM49 28h3v1h-3zM53 28h1v1h-1zM55 28h1v1h-1zM8 29h1v1h-1zM12 29h1v1h-1zM15 29h2v1h-2zM38 29h1v1h-1zM58 29h1v1h-1zM8 30h1v1h-1zM42 30h3v1h-3zM52 30h1v1h-1zM60 30h1v1h-1zM7 31h1v1h-1zM41 31h1v1h-1zM55 31h1v1h-1zM23 32h1v1h-1zM41 32h1v1h-1zM8 33h1v1h-1zM13 33h2v1h-2zM37 33h1v1h-1zM42 33h2v1h-2zM0 34h2v1h-2zM3 34h1v1h-1zM11 34h2v1h-2zM19 34h1v1h-1zM23 34h1v1h-1zM27 34h1v1h-1zM37 34h1v1h-1zM9 35h1v1h-1zM13 35h1v1h-1zM16 35h1v1h-1zM4 36h1v1h-1zM6 36h1v1h-1zM41 36h1v1h-1zM43 36h1v1h-1zM0 37h2v1h-2zM4 37h1v1h-1zM12 37h2v1h-2zM15 37h4v1h-4zM33 37h2v1h-2zM41 37h1v1h-1zM45 37h1v1h-1zM51 37h1v1h-1zM61 37h2v1h-2zM4 38h1v1h-1zM6 38h1v1h-1zM12 38h1v1h-1zM24 38h1v1h-1zM28 38h2v1h-2zM52 38h1v1h-1zM8 39h2v1h-2zM15 39h2v1h-2zM22 39h1v1h-1zM45 39h1v1h-1zM49 39h1v1h-1zM10 40h1v1h-1zM41 40h2v1h-2zM46 40h1v1h-1zM13 41h1v1h-1zM16 41h2v1h-2zM20 41h1v1h-1zM31 41h2v1h-2zM36 41h2v1h-2zM40 41h1v1h-1zM45 41h3v1h-3zM51 41h1v1h-1zM53 41h2v1h-2zM59 41h2v1h-2zM30 42h1v1h-1zM33 42h1v1h-1zM40 42h1v1h-1zM59 42h1v1h-1zM4 43h2v1h-2zM25 43h1v1h-1zM30 43h1v1h-1zM33 43h1v1h-1zM36 43h1v1h-1zM15 44h1v1h-1zM19 44h1v1h-1zM30 44h1v1h-1zM49 44h1v1h-1zM19 45h4v1h-4zM37 45h1v1h-1zM39 45h1v1h-1zM41 45h1v1h-1zM51 45h1v1h-1zM54 45h2v1h-2zM57 45h2v1h-2zM60 45h1v1h-1zM2 46h1v1h-1zM17 46h1v1h-1zM22 46h1v1h-1zM24 46h1v1h-1zM28 46h1v1h-1zM40 46h2v1h-2zM51 46h1v1h-1zM54 46h1v1h-1zM2 47h2v1h-2zM11 47h1v1h-1zM16 47h1v1h-1zM24 47h1v1h-1zM27 47h2v1h-2zM41 47h1v1h-1zM50 47h1v1h-1zM54 47h1v1h-1zM2 48h1v1h-1zM13 48h1v1h-1zM60 48h1v1h-1zM5 49h1v1h-1zM28 49h1v1h-1zM39 49h1v1h-1zM44 49h1v1h-1zM53 49h1v1h-1zM59 49h4v1h-4zM2 50h1v1h-1zM17 50h1v1h-1zM28 50h1v1h-1zM47 50h1v1h-1zM10 51h3v1h-3zM16 51h1v1h-1zM28 51h1v1h-1zM37 51h1v1h-1zM41 51h1v1h-1zM45 51h2v1h-2zM13 52h1v1h-1zM30 52h1v1h-1zM38 52h1v1h-1zM13 53h1v1h-1zM28 53h1v1h-1zM41 53h1v1h-1zM49 53h1v1h-1zM11 54h2v1h-2zM15 54h3v1h-3zM26 54h1v1h-1zM41 54h1v1h-1zM45 54h3v1h-3zM59 54h1v1h-1zM20 55h1v1h-1zM24 55h1v1h-1zM26 55h1v1h-1zM28 55h1v1h-1zM31 55h1v1h-1zM45 55h1v1h-1zM59 55h1v1h-1zM8 56h1v1h-1zM10 56h1v1h-1zM16 56h1v1h-1zM8 57h1v1h-1zM10 57h1v1h-1zM13 57h1v1h-1zM15 57h1v1h-1zM21 57h1v1h-1zM26 57h1v1h-1zM45 57h1v1h-1zM8 58h1v1h-1zM18 58h1v1h-1zM29 58h1v1h-1zM45 58h1v1h-1zM8 59h1v1h-1zM22 59h1v1h-1zM41 59h2v1h-2zM49 59h1v1h-1zM54 59h2v1h-2zM8 60h1v1h-1zM19 60h2v1h-2zM30 60h1v1h-1zM41 60h1v1h-1zM45 60h1v1h-1zM48 60h2v1h-2zM2 61h1v1h-1zM8 61h1v1h-1zM12 61h1v1h-1zM19 61h3v1h-3zM37 61h1v1h-1zM49 61h1v1h-1zM2 62h1v1h-1zM8 62h1v1h-1zM12 62h1v1h-1zM19 62h3v1h-3zM37 62h1v1h-1zM49 62h1v1h-1z"/>
<path fill="#c8ff38" d="M43 2h1v1h-1zM39 6h2v1h-2zM45 10h1v1h-1zM21 11h1v1h-1zM56 11h1v1h-1zM42 13h1v1h-1zM18 14h1v1h-1zM44 14h1v1h-1zM50 14h1v1h-1zM54 14h2v1h-2zM18 15h1v1h-1zM53 17h1v1h-1zM14 18h2v1h-2zM21 18h1v1h-1zM46 18h1v1h-1zM47 19h1v1h-1zM57 19h1v1h-1zM57 20h1v1h-1zM11 21h1v1h-1zM18 21h1v1h-1zM49 21h1v1h-1zM38 22h1v1h-1zM51 22h1v1h-1zM44 23h1v1h-1zM50 23h1v1h-1zM43 26h1v1h-1zM53 26h1v1h-1zM44 27h1v1h-1zM43 28h1v1h-1zM56 28h1v1h-1zM43 29h1v1h-1zM43 34h1v1h-1zM55 34h1v1h-1zM44 37h1v1h-1zM22 38h1v1h-1zM44 38h1v1h-1zM6 39h1v1h-1zM6 40h1v1h-1zM44 41h1v1h-1zM13 42h1v1h-1zM48 42h1v1h-1zM50 42h1v1h-1zM2 43h1v1h-1zM26 43h1v1h-1zM28 43h2v1h-2zM34 43h1v1h-1zM50 43h1v1h-1zM54 43h1v1h-1zM57 43h2v1h-2zM14 44h1v1h-1zM23 44h1v1h-1zM27 44h1v1h-1zM37 44h2v1h-2zM41 44h1v1h-1zM50 44h1v1h-1zM58 44h1v1h-1zM10 45h1v1h-1zM18 46h1v1h-1zM19 47h1v1h-1zM49 47h1v1h-1zM53 47h1v1h-1zM42 48h1v1h-1zM49 48h1v1h-1zM53 48h1v1h-1zM55 48h2v1h-2zM21 49h1v1h-1zM47 49h2v1h-2zM14 50h1v1h-1zM23 50h1v1h-1zM42 50h3v1h-3zM22 51h1v1h-1zM56 51h1v1h-1zM56 52h1v1h-1zM17 53h1v1h-1zM26 53h1v1h-1zM47 53h2v1h-2zM14 54h1v1h-1zM43 54h1v1h-1zM14 55h1v1h-1zM34 55h1v1h-1zM48 55h1v1h-1zM11 56h1v1h-1zM28 56h1v1h-1zM48 56h1v1h-1zM51 56h2v1h-2zM19 57h2v1h-2zM43 57h1v1h-1zM43 58h2v1h-2z"/>
<path fill="#80ff80" d="M7 3h1v1h-1zM3 7h1v1h-1zM14 10h1v1h-1zM43 10h2v1h-2zM22 11h1v1h-1zM38 13h1v1h-1zM43 13h1v1h-1zM10 14h1v1h-1zM21 14h1v1h-1zM23 14h1v1h-1zM42 18h4v1h-4zM48 19h1v1h-1zM14 21h1v1h-1zM23 21h1v1h-1zM43 21h1v1h-1zM11 22h1v1h-1zM43 22h1v1h-1zM14 23h1v1h-1zM21 23h1v1h-1zM43 23h1v1h-1zM60 23h1v1h-1zM43 27h1v1h-1zM44 28h1v1h-1zM43 37h1v1h-1zM13 38h1v1h-1zM43 38h1v1h-1zM18 42h1v1h-1zM10 43h1v1h-1zM13 43h1v1h-1zM18 43h1v1h-1zM21 43h3v1h-3zM27 43h1v1h-1zM37 43h2v1h-2zM55 43h1v1h-1zM61 43h2v1h-2zM10 44h1v1h-1zM18 44h1v1h-1zM28 44h1v1h-1zM61 44h2v1h-2zM18 45h1v1h-1zM47 46h1v1h-1zM46 47h1v1h-1zM19 48h1v1h-1zM52 48h1v1h-1zM48 52h1v1h-1zM43 55h1v1h-1zM59 56h2v1h-2zM56 59h1v1h-1zM23 60h1v1h-1zM56 60h1v1h-1zM43 61h2v1h-2zM43 62h2v1h-2z"/>
<path fill="#30ffd0" d="M13 7h1v1h-1zM43 7h1v1h-1zM37 10h1v1h-1zM7 13h1v1h-1zM48 23h1v1h-1zM53 24h1v1h-1zM10 37h1v1h-1zM7 43h1v1h-1zM56 43h1v1h-1zM23 48h1v1h-1zM24 53h1v1h-1zM57 53h1v1h-1zM43 56h1v1h-1zM53 57h1v1h-1z"/>
<path fill="#0070ff" d="M44 43h1v1h-1zM43 44h1v1h-1z"/>
</svg></div>
<div class="cb" style="left:734.6px;top:75px;width:45.8px;height:569px"></div>
<div class="hm" style="left:1026px;top:74.8px;width:606.0px;height:567.3px">
<svg style="position:absolute;left:-9.908px;top:-9.280px;filter:blur(1.3px);" width="624.204" height="584.640" viewBox="0 0 63 63" preserveAspectRatio="none" shape-rendering="crispEdges">
<rect width="63" height="63" fill="#960000"/>
<path fill="#00008f" d="M0 0h2v1h-2zM0 1h2v1h-2zM2 2h1v1h-1zM3 3h1v1h-1zM4 4h1v1h-1zM5 5h1v1h-1zM6 6h1v1h-1zM7 7h1v1h-1zM8 8h1v1h-1zM9 9h1v1h-1zM10 10h1v1h-1zM11 11h1v1h-1zM12 12h1v1h-1zM13 13h1v1h-1zM14 14h1v1h-1zM15 15h1v1h-1zM16 16h1v1h-1zM17 17h1v1h-1zM18 18h1v1h-1zM19 19h1v1h-1zM20 20h1v1h-1zM21 21h1v1h-1zM22 22h1v1h-1zM23 23h1v1h-1zM24 24h1v1h-1zM25 25h1v1h-1zM26 26h1v1h-1zM27 27h1v1h-1zM28 28h1v1h-1zM29 29h1v1h-1zM30 30h1v1h-1zM31 31h1v1h-1zM32 32h1v1h-1zM33 33h1v1h-1zM34 34h1v1h-1zM35 35h1v1h-1zM36 36h1v1h-1zM37 37h1v1h-1zM38 38h1v1h-1zM39 39h1v1h-1zM40 40h1v1h-1zM41 41h1v1h-1zM42 42h1v1h-1zM43 43h1v1h-1zM44 44h1v1h-1zM45 45h1v1h-1zM46 46h1v1h-1zM47 47h1v1h-1zM48 48h1v1h-1zM49 49h1v1h-1zM50 50h1v1h-1zM51 51h1v1h-1zM52 52h1v1h-1zM53 53h1v1h-1zM54 54h1v1h-1zM55 55h1v1h-1zM56 56h1v1h-1zM57 57h1v1h-1zM58 58h1v1h-1zM59 59h1v1h-1zM60 60h1v1h-1zM61 61h2v1h-2zM61 62h2v1h-2z"/>
<path fill="#eefa14" d="M2 0h1v1h-1zM12 0h1v1h-1zM15 0h1v1h-1zM17 0h3v1h-3zM21 0h3v1h-3zM38 0h1v1h-1zM53 0h1v1h-1zM2 1h1v1h-1zM12 1h1v1h-1zM15 1h1v1h-1zM17 1h3v1h-3zM21 1h3v1h-3zM38 1h1v1h-1zM53 1h1v1h-1zM0 2h2v1h-2zM7 2h2v1h-2zM12 2h1v1h-1zM20 2h4v1h-4zM27 2h1v1h-1zM38 2h3v1h-3zM50 2h1v1h-1zM53 2h1v1h-1zM61 2h2v1h-2zM4 3h1v1h-1zM8 3h1v1h-1zM12 3h1v1h-1zM20 3h3v1h-3zM31 3h2v1h-2zM35 3h1v1h-1zM38 3h1v1h-1zM40 3h1v1h-1zM51 3h2v1h-2zM3 4h1v1h-1zM12 4h1v1h-1zM16 4h1v1h-1zM20 4h2v1h-2zM38 4h1v1h-1zM50 4h1v1h-1zM52 4h1v1h-1zM13 5h3v1h-3zM19 5h5v1h-5zM38 5h2v1h-2zM41 5h1v1h-1zM45 5h1v1h-1zM50 5h1v1h-1zM52 5h1v1h-1zM9 6h1v1h-1zM11 6h2v1h-2zM14 6h1v1h-1zM17 6h3v1h-3zM22 6h2v1h-2zM35 6h1v1h-1zM38 6h2v1h-2zM46 6h1v1h-1zM49 6h2v1h-2zM52 6h1v1h-1zM2 7h1v1h-1zM9 7h1v1h-1zM22 7h1v1h-1zM31 7h2v1h-2zM34 7h1v1h-1zM38 7h1v1h-1zM40 7h1v1h-1zM61 7h2v1h-2zM2 8h2v1h-2zM11 8h1v1h-1zM22 8h1v1h-1zM27 8h2v1h-2zM32 8h1v1h-1zM34 8h2v1h-2zM38 8h1v1h-1zM53 8h1v1h-1zM61 8h2v1h-2zM6 9h2v1h-2zM11 9h2v1h-2zM21 9h1v1h-1zM43 9h3v1h-3zM28 10h2v1h-2zM37 10h3v1h-3zM43 10h2v1h-2zM51 10h1v1h-1zM54 10h1v1h-1zM57 10h1v1h-1zM6 11h1v1h-1zM8 11h2v1h-2zM12 11h1v1h-1zM20 11h1v1h-1zM22 11h1v1h-1zM24 11h1v1h-1zM26 11h2v1h-2zM30 11h1v1h-1zM43 11h2v1h-2zM46 11h1v1h-1zM50 11h1v1h-1zM53 11h3v1h-3zM0 12h5v1h-5zM6 12h1v1h-1zM9 12h1v1h-1zM11 12h1v1h-1zM19 12h2v1h-2zM22 12h1v1h-1zM24 12h1v1h-1zM27 12h1v1h-1zM29 12h3v1h-3zM47 12h1v1h-1zM50 12h2v1h-2zM55 12h2v1h-2zM5 13h1v1h-1zM14 13h1v1h-1zM24 13h2v1h-2zM39 13h2v1h-2zM43 13h5v1h-5zM52 13h3v1h-3zM57 13h1v1h-1zM5 14h2v1h-2zM13 14h1v1h-1zM23 14h1v1h-1zM36 14h1v1h-1zM39 14h1v1h-1zM52 14h1v1h-1zM54 14h1v1h-1zM0 15h2v1h-2zM5 15h1v1h-1zM16 15h1v1h-1zM19 15h1v1h-1zM23 15h1v1h-1zM25 15h1v1h-1zM45 15h1v1h-1zM50 15h2v1h-2zM60 15h1v1h-1zM4 16h1v1h-1zM15 16h1v1h-1zM17 16h1v1h-1zM20 16h2v1h-2zM23 16h1v1h-1zM25 16h1v1h-1zM31 16h1v1h-1zM48 16h1v1h-1zM51 16h1v1h-1zM54 16h1v1h-1zM60 16h1v1h-1zM0 17h2v1h-2zM6 17h1v1h-1zM16 17h1v1h-1zM23 17h2v1h-2zM29 17h1v1h-1zM47 17h2v1h-2zM51 17h2v1h-2zM54 17h1v1h-1zM60 17h1v1h-1zM0 18h2v1h-2zM6 18h1v1h-1zM19 18h2v1h-2zM25 18h1v1h-1zM36 18h1v1h-1zM41 18h1v1h-1zM45 18h1v1h-1zM49 18h1v1h-1zM60 18h1v1h-1zM0 19h2v1h-2zM5 19h2v1h-2zM12 19h1v1h-1zM15 19h1v1h-1zM18 19h1v1h-1zM26 19h1v1h-1zM33 19h1v1h-1zM41 19h1v1h-1zM44 19h1v1h-1zM61 19h2v1h-2zM2 20h4v1h-4zM11 20h2v1h-2zM16 20h1v1h-1zM18 20h1v1h-1zM21 20h1v1h-1zM26 20h5v1h-5zM36 20h3v1h-3zM41 20h2v1h-2zM47 20h1v1h-1zM50 20h5v1h-5zM59 20h1v1h-1zM0 21h6v1h-6zM9 21h1v1h-1zM16 21h1v1h-1zM20 21h1v1h-1zM26 21h1v1h-1zM28 21h1v1h-1zM36 21h3v1h-3zM43 21h1v1h-1zM46 21h2v1h-2zM49 21h2v1h-2zM53 21h1v1h-1zM55 21h1v1h-1zM0 22h4v1h-4zM5 22h4v1h-4zM11 22h2v1h-2zM28 22h1v1h-1zM30 22h4v1h-4zM36 22h3v1h-3zM40 22h1v1h-1zM49 22h1v1h-1zM53 22h1v1h-1zM56 22h1v1h-1zM0 23h3v1h-3zM5 23h2v1h-2zM14 23h4v1h-4zM24 23h1v1h-1zM35 23h1v1h-1zM45 23h1v1h-1zM48 23h1v1h-1zM53 23h1v1h-1zM11 24h3v1h-3zM17 24h1v1h-1zM23 24h1v1h-1zM25 24h1v1h-1zM43 24h1v1h-1zM45 24h3v1h-3zM53 24h2v1h-2zM57 24h1v1h-1zM13 25h1v1h-1zM15 25h2v1h-2zM18 25h1v1h-1zM24 25h1v1h-1zM28 25h1v1h-1zM41 25h2v1h-2zM44 25h2v1h-2zM47 25h1v1h-1zM49 25h2v1h-2zM52 25h1v1h-1zM58 25h1v1h-1zM11 26h1v1h-1zM19 26h3v1h-3zM28 26h2v1h-2zM45 26h1v1h-1zM50 26h1v1h-1zM2 27h1v1h-1zM8 27h1v1h-1zM11 27h2v1h-2zM20 27h1v1h-1zM32 27h1v1h-1zM38 27h1v1h-1zM48 27h2v1h-2zM55 27h1v1h-1zM60 27h1v1h-1zM8 28h1v1h-1zM10 28h1v1h-1zM20 28h3v1h-3zM25 28h2v1h-2zM38 28h1v1h-1zM49 28h1v1h-1zM51 28h1v1h-1zM55 28h1v1h-1zM10 29h1v1h-1zM12 29h1v1h-1zM17 29h1v1h-1zM20 29h1v1h-1zM26 29h1v1h-1zM40 29h1v1h-1zM42 29h1v1h-1zM47 29h1v1h-1zM49 29h1v1h-1zM54 29h1v1h-1zM11 30h2v1h-2zM20 30h1v1h-1zM22 30h1v1h-1zM38 30h1v1h-1zM43 30h3v1h-3zM47 30h1v1h-1zM49 30h1v1h-1zM51 30h1v1h-1zM53 30h1v1h-1zM56 30h1v1h-1zM60 30h1v1h-1zM3 31h1v1h-1zM7 31h1v1h-1zM12 31h1v1h-1zM16 31h1v1h-1zM22 31h1v1h-1zM3 32h1v1h-1zM7 32h2v1h-2zM22 32h1v1h-1zM27 32h1v1h-1zM40 32h1v1h-1zM50 32h1v1h-1zM19 33h1v1h-1zM22 33h1v1h-1zM38 33h1v1h-1zM7 34h2v1h-2zM38 34h2v1h-2zM3 35h1v1h-1zM6 35h1v1h-1zM8 35h1v1h-1zM23 35h1v1h-1zM40 35h1v1h-1zM53 35h1v1h-1zM14 36h1v1h-1zM18 36h1v1h-1zM20 36h3v1h-3zM40 36h1v1h-1zM45 36h2v1h-2zM50 36h1v1h-1zM10 37h1v1h-1zM20 37h3v1h-3zM38 37h2v1h-2zM51 37h1v1h-1zM55 37h1v1h-1zM0 38h9v1h-9zM10 38h1v1h-1zM20 38h3v1h-3zM27 38h2v1h-2zM30 38h1v1h-1zM33 38h2v1h-2zM37 38h1v1h-1zM40 38h1v1h-1zM53 38h1v1h-1zM55 38h2v1h-2zM2 39h1v1h-1zM5 39h2v1h-2zM10 39h1v1h-1zM13 39h2v1h-2zM34 39h1v1h-1zM37 39h1v1h-1zM41 39h1v1h-1zM43 39h1v1h-1zM52 39h1v1h-1zM56 39h1v1h-1zM2 40h2v1h-2zM7 40h1v1h-1zM13 40h1v1h-1zM22 40h1v1h-1zM29 40h1v1h-1zM32 40h1v1h-1zM35 40h2v1h-2zM38 40h1v1h-1zM52 40h1v1h-1zM54 40h1v1h-1zM5 41h1v1h-1zM18 41h3v1h-3zM25 41h1v1h-1zM39 41h1v1h-1zM20 42h1v1h-1zM25 42h1v1h-1zM29 42h1v1h-1zM9 43h3v1h-3zM13 43h1v1h-1zM21 43h1v1h-1zM24 43h1v1h-1zM30 43h1v1h-1zM39 43h1v1h-1zM45 43h2v1h-2zM50 43h1v1h-1zM52 43h2v1h-2zM59 43h1v1h-1zM9 44h3v1h-3zM13 44h1v1h-1zM19 44h1v1h-1zM25 44h1v1h-1zM30 44h1v1h-1zM51 44h1v1h-1zM58 44h2v1h-2zM5 45h1v1h-1zM9 45h1v1h-1zM13 45h1v1h-1zM15 45h1v1h-1zM18 45h1v1h-1zM23 45h4v1h-4zM30 45h1v1h-1zM36 45h1v1h-1zM43 45h1v1h-1zM53 45h1v1h-1zM58 45h1v1h-1zM6 46h1v1h-1zM11 46h1v1h-1zM13 46h1v1h-1zM21 46h1v1h-1zM24 46h1v1h-1zM36 46h1v1h-1zM43 46h1v1h-1zM58 46h1v1h-1zM12 47h2v1h-2zM17 47h1v1h-1zM20 47h2v1h-2zM24 47h2v1h-2zM29 47h2v1h-2zM52 47h1v1h-1zM16 48h2v1h-2zM23 48h1v1h-1zM27 48h1v1h-1zM52 48h1v1h-1zM55 48h1v1h-1zM6 49h1v1h-1zM18 49h1v1h-1zM21 49h2v1h-2zM25 49h1v1h-1zM27 49h4v1h-4zM50 49h1v1h-1zM52 49h1v1h-1zM61 49h2v1h-2zM2 50h1v1h-1zM4 50h3v1h-3zM11 50h2v1h-2zM15 50h1v1h-1zM20 50h2v1h-2zM25 50h2v1h-2zM32 50h1v1h-1zM36 50h1v1h-1zM43 50h1v1h-1zM49 50h1v1h-1zM51 50h2v1h-2zM58 50h1v1h-1zM3 51h1v1h-1zM10 51h1v1h-1zM12 51h1v1h-1zM15 51h3v1h-3zM20 51h1v1h-1zM28 51h1v1h-1zM30 51h1v1h-1zM37 51h1v1h-1zM44 51h1v1h-1zM50 51h1v1h-1zM58 51h1v1h-1zM3 52h4v1h-4zM13 52h2v1h-2zM17 52h1v1h-1zM20 52h1v1h-1zM25 52h1v1h-1zM39 52h2v1h-2zM43 52h1v1h-1zM47 52h4v1h-4zM0 53h3v1h-3zM8 53h1v1h-1zM11 53h1v1h-1zM13 53h1v1h-1zM20 53h5v1h-5zM30 53h1v1h-1zM35 53h1v1h-1zM38 53h1v1h-1zM43 53h1v1h-1zM45 53h1v1h-1zM54 53h1v1h-1zM10 54h2v1h-2zM13 54h2v1h-2zM16 54h2v1h-2zM20 54h1v1h-1zM24 54h1v1h-1zM29 54h1v1h-1zM40 54h1v1h-1zM53 54h1v1h-1zM11 55h2v1h-2zM21 55h1v1h-1zM27 55h2v1h-2zM37 55h2v1h-2zM48 55h1v1h-1zM58 55h1v1h-1zM12 56h1v1h-1zM22 56h1v1h-1zM30 56h1v1h-1zM38 56h2v1h-2zM58 56h1v1h-1zM10 57h1v1h-1zM13 57h1v1h-1zM24 57h1v1h-1zM25 58h1v1h-1zM44 58h3v1h-3zM50 58h2v1h-2zM55 58h2v1h-2zM20 59h1v1h-1zM43 59h2v1h-2zM15 60h4v1h-4zM27 60h1v1h-1zM30 60h1v1h-1zM2 61h1v1h-1zM7 61h2v1h-2zM19 61h1v1h-1zM49 61h1v1h-1zM2 62h1v1h-1zM7 62h2v1h-2zM19 62h1v1h-1zM49 62h1v1h-1z"/>
<path fill="#ff8a00" d="M3 0h1v1h-1zM7 0h2v1h-2zM14 0h1v1h-1zM27 0h1v1h-1zM33 0h2v1h-2zM54 0h1v1h-1zM3 1h1v1h-1zM7 1h2v1h-2zM14 1h1v1h-1zM27 1h1v1h-1zM33 1h2v1h-2zM54 1h1v1h-1zM5 2h2v1h-2zM24 2h1v1h-1zM32 2h2v1h-2zM35 2h3v1h-3zM54 2h1v1h-1zM0 3h2v1h-2zM6 3h1v1h-1zM34 3h1v1h-1zM39 3h1v1h-1zM50 3h1v1h-1zM54 3h2v1h-2zM5 4h1v1h-1zM9 4h1v1h-1zM39 4h2v1h-2zM53 4h1v1h-1zM55 4h1v1h-1zM2 5h1v1h-1zM4 5h1v1h-1zM6 5h2v1h-2zM9 5h1v1h-1zM18 5h1v1h-1zM25 5h1v1h-1zM40 5h1v1h-1zM54 5h1v1h-1zM56 5h1v1h-1zM61 5h2v1h-2zM2 6h2v1h-2zM5 6h1v1h-1zM34 6h1v1h-1zM53 6h2v1h-2zM56 6h1v1h-1zM0 7h2v1h-2zM5 7h1v1h-1zM30 7h1v1h-1zM35 7h2v1h-2zM39 7h1v1h-1zM52 7h1v1h-1zM0 8h2v1h-2zM23 8h1v1h-1zM25 8h2v1h-2zM30 8h2v1h-2zM36 8h1v1h-1zM39 8h2v1h-2zM52 8h1v1h-1zM56 8h1v1h-1zM60 8h1v1h-1zM4 9h2v1h-2zM14 9h1v1h-1zM35 9h1v1h-1zM37 9h2v1h-2zM41 9h1v1h-1zM52 9h1v1h-1zM23 10h1v1h-1zM30 10h1v1h-1zM40 10h1v1h-1zM52 10h1v1h-1zM14 11h1v1h-1zM25 11h1v1h-1zM29 11h1v1h-1zM57 11h1v1h-1zM25 12h1v1h-1zM44 12h1v1h-1zM46 12h1v1h-1zM53 12h1v1h-1zM41 13h1v1h-1zM50 13h1v1h-1zM0 14h2v1h-2zM9 14h1v1h-1zM11 14h1v1h-1zM24 14h2v1h-2zM30 14h1v1h-1zM38 14h1v1h-1zM59 14h1v1h-1zM18 15h1v1h-1zM24 15h1v1h-1zM44 15h1v1h-1zM49 15h1v1h-1zM52 15h1v1h-1zM54 15h1v1h-1zM19 16h1v1h-1zM24 16h1v1h-1zM29 16h1v1h-1zM44 16h1v1h-1zM50 16h1v1h-1zM52 16h1v1h-1zM19 17h3v1h-3zM30 17h1v1h-1zM44 17h1v1h-1zM50 17h1v1h-1zM59 17h1v1h-1zM5 18h1v1h-1zM15 18h1v1h-1zM24 18h1v1h-1zM30 18h1v1h-1zM44 18h1v1h-1zM48 18h1v1h-1zM57 18h1v1h-1zM59 18h1v1h-1zM16 19h2v1h-2zM24 19h2v1h-2zM28 19h3v1h-3zM58 19h2v1h-2zM17 20h1v1h-1zM44 20h1v1h-1zM48 20h1v1h-1zM56 20h1v1h-1zM17 21h1v1h-1zM23 21h3v1h-3zM27 21h1v1h-1zM29 21h1v1h-1zM44 21h1v1h-1zM48 21h1v1h-1zM52 21h1v1h-1zM59 21h1v1h-1zM26 22h2v1h-2zM58 22h1v1h-1zM8 23h1v1h-1zM10 23h1v1h-1zM21 23h1v1h-1zM25 23h1v1h-1zM31 23h1v1h-1zM37 23h3v1h-3zM46 23h1v1h-1zM50 23h3v1h-3zM55 23h1v1h-1zM2 24h1v1h-1zM14 24h3v1h-3zM18 24h2v1h-2zM21 24h1v1h-1zM27 24h2v1h-2zM39 24h2v1h-2zM52 24h1v1h-1zM55 24h2v1h-2zM60 24h1v1h-1zM5 25h1v1h-1zM8 25h1v1h-1zM11 25h2v1h-2zM14 25h1v1h-1zM19 25h1v1h-1zM21 25h1v1h-1zM23 25h1v1h-1zM26 25h1v1h-1zM29 25h1v1h-1zM40 25h1v1h-1zM43 25h1v1h-1zM56 25h1v1h-1zM8 26h1v1h-1zM22 26h1v1h-1zM25 26h1v1h-1zM27 26h1v1h-1zM38 26h2v1h-2zM46 26h1v1h-1zM48 26h1v1h-1zM51 26h1v1h-1zM56 26h1v1h-1zM58 26h2v1h-2zM61 26h2v1h-2zM0 27h2v1h-2zM21 27h2v1h-2zM24 27h1v1h-1zM26 27h1v1h-1zM30 27h1v1h-1zM33 27h1v1h-1zM35 27h1v1h-1zM39 27h1v1h-1zM54 27h1v1h-1zM59 27h1v1h-1zM19 28h1v1h-1zM24 28h1v1h-1zM29 28h2v1h-2zM48 28h1v1h-1zM58 28h2v1h-2zM11 29h1v1h-1zM16 29h1v1h-1zM19 29h1v1h-1zM21 29h1v1h-1zM25 29h1v1h-1zM28 29h1v1h-1zM43 29h4v1h-4zM55 29h1v1h-1zM7 30h2v1h-2zM10 30h1v1h-1zM14 30h1v1h-1zM17 30h3v1h-3zM27 30h2v1h-2zM40 30h1v1h-1zM48 30h1v1h-1zM50 30h1v1h-1zM8 31h1v1h-1zM23 31h1v1h-1zM37 31h1v1h-1zM51 31h1v1h-1zM2 32h1v1h-1zM54 32h1v1h-1zM0 33h3v1h-3zM27 33h1v1h-1zM34 33h1v1h-1zM50 33h1v1h-1zM54 33h1v1h-1zM56 33h1v1h-1zM0 34h2v1h-2zM3 34h1v1h-1zM6 34h1v1h-1zM33 34h1v1h-1zM35 34h3v1h-3zM54 34h1v1h-1zM2 35h1v1h-1zM7 35h1v1h-1zM9 35h1v1h-1zM27 35h1v1h-1zM34 35h1v1h-1zM39 35h1v1h-1zM55 35h1v1h-1zM61 35h2v1h-2zM2 36h1v1h-1zM7 36h2v1h-2zM34 36h1v1h-1zM38 36h2v1h-2zM56 36h1v1h-1zM2 37h1v1h-1zM9 37h1v1h-1zM23 37h1v1h-1zM31 37h1v1h-1zM34 37h1v1h-1zM50 37h1v1h-1zM52 37h2v1h-2zM61 37h2v1h-2zM9 38h1v1h-1zM14 38h1v1h-1zM23 38h1v1h-1zM26 38h1v1h-1zM36 38h1v1h-1zM39 38h1v1h-1zM54 38h1v1h-1zM57 38h3v1h-3zM3 39h2v1h-2zM7 39h2v1h-2zM23 39h2v1h-2zM26 39h2v1h-2zM35 39h2v1h-2zM38 39h1v1h-1zM40 39h1v1h-1zM45 39h3v1h-3zM54 39h1v1h-1zM61 39h2v1h-2zM4 40h2v1h-2zM8 40h1v1h-1zM10 40h1v1h-1zM24 40h2v1h-2zM30 40h1v1h-1zM39 40h1v1h-1zM57 40h1v1h-1zM9 41h1v1h-1zM13 41h1v1h-1zM43 41h1v1h-1zM57 41h1v1h-1zM44 42h1v1h-1zM52 42h1v1h-1zM25 43h1v1h-1zM29 43h1v1h-1zM41 43h1v1h-1zM57 43h1v1h-1zM12 44h1v1h-1zM15 44h4v1h-4zM20 44h2v1h-2zM29 44h1v1h-1zM42 44h1v1h-1zM48 44h3v1h-3zM52 44h3v1h-3zM29 45h1v1h-1zM39 45h1v1h-1zM50 45h1v1h-1zM57 45h1v1h-1zM12 46h1v1h-1zM23 46h1v1h-1zM26 46h1v1h-1zM29 46h1v1h-1zM39 46h1v1h-1zM50 46h1v1h-1zM54 46h1v1h-1zM57 46h1v1h-1zM59 46h1v1h-1zM39 47h1v1h-1zM50 47h1v1h-1zM59 47h1v1h-1zM18 48h1v1h-1zM20 48h2v1h-2zM26 48h1v1h-1zM28 48h1v1h-1zM30 48h1v1h-1zM44 48h1v1h-1zM49 48h1v1h-1zM56 48h1v1h-1zM58 48h1v1h-1zM60 48h1v1h-1zM15 49h1v1h-1zM44 49h1v1h-1zM48 49h1v1h-1zM51 49h1v1h-1zM56 49h2v1h-2zM59 49h1v1h-1zM3 50h1v1h-1zM13 50h1v1h-1zM16 50h2v1h-2zM23 50h1v1h-1zM30 50h1v1h-1zM33 50h1v1h-1zM37 50h1v1h-1zM44 50h4v1h-4zM54 50h1v1h-1zM56 50h2v1h-2zM60 50h1v1h-1zM23 51h1v1h-1zM26 51h1v1h-1zM31 51h1v1h-1zM49 51h1v1h-1zM52 51h2v1h-2zM56 51h1v1h-1zM59 51h1v1h-1zM7 52h4v1h-4zM15 52h2v1h-2zM21 52h1v1h-1zM23 52h2v1h-2zM37 52h1v1h-1zM42 52h1v1h-1zM44 52h1v1h-1zM51 52h1v1h-1zM54 52h1v1h-1zM57 52h1v1h-1zM59 52h1v1h-1zM4 53h1v1h-1zM6 53h1v1h-1zM12 53h1v1h-1zM37 53h1v1h-1zM44 53h1v1h-1zM51 53h1v1h-1zM59 53h1v1h-1zM0 54h4v1h-4zM5 54h2v1h-2zM15 54h1v1h-1zM27 54h1v1h-1zM32 54h3v1h-3zM38 54h2v1h-2zM44 54h1v1h-1zM46 54h1v1h-1zM50 54h1v1h-1zM52 54h1v1h-1zM55 54h1v1h-1zM3 55h2v1h-2zM23 55h2v1h-2zM29 55h1v1h-1zM35 55h1v1h-1zM54 55h1v1h-1zM59 55h1v1h-1zM5 56h2v1h-2zM8 56h1v1h-1zM20 56h1v1h-1zM24 56h3v1h-3zM33 56h1v1h-1zM36 56h1v1h-1zM48 56h4v1h-4zM59 56h1v1h-1zM61 56h2v1h-2zM11 57h1v1h-1zM18 57h1v1h-1zM38 57h1v1h-1zM40 57h2v1h-2zM43 57h1v1h-1zM45 57h2v1h-2zM49 57h2v1h-2zM52 57h1v1h-1zM58 57h1v1h-1zM19 58h1v1h-1zM22 58h1v1h-1zM26 58h1v1h-1zM28 58h1v1h-1zM38 58h1v1h-1zM48 58h1v1h-1zM57 58h1v1h-1zM14 59h1v1h-1zM17 59h3v1h-3zM21 59h1v1h-1zM26 59h3v1h-3zM38 59h1v1h-1zM46 59h2v1h-2zM49 59h1v1h-1zM51 59h3v1h-3zM55 59h2v1h-2zM8 60h1v1h-1zM24 60h1v1h-1zM48 60h1v1h-1zM50 60h1v1h-1zM5 61h1v1h-1zM26 61h1v1h-1zM35 61h1v1h-1zM37 61h1v1h-1zM39 61h1v1h-1zM56 61h1v1h-1zM5 62h1v1h-1zM26 62h1v1h-1zM35 62h1v1h-1zM37 62h1v1h-1zM39 62h1v1h-1zM56 62h1v1h-1z"/>
<path fill="#ffc800" d="M10 0h1v1h-1zM40 0h1v1h-1zM10 1h1v1h-1zM40 1h1v1h-1zM52 2h1v1h-1zM23 3h1v1h-1zM37 3h1v1h-1zM53 3h1v1h-1zM6 4h1v1h-1zM8 4h1v1h-1zM22 4h2v1h-2zM8 5h1v1h-1zM10 5h1v1h-1zM12 5h1v1h-1zM16 5h1v1h-1zM46 5h2v1h-2zM55 5h1v1h-1zM4 6h1v1h-1zM20 6h1v1h-1zM47 6h1v1h-1zM55 6h1v1h-1zM61 6h2v1h-2zM4 8h2v1h-2zM33 8h1v1h-1zM22 9h2v1h-2zM36 9h1v1h-1zM0 10h2v1h-2zM5 10h1v1h-1zM45 10h1v1h-1zM5 12h1v1h-1zM26 12h1v1h-1zM49 12h1v1h-1zM52 12h1v1h-1zM59 12h1v1h-1zM51 14h1v1h-1zM53 14h1v1h-1zM20 15h1v1h-1zM26 15h1v1h-1zM46 15h2v1h-2zM5 16h1v1h-1zM26 16h1v1h-1zM39 18h1v1h-1zM46 18h1v1h-1zM20 19h1v1h-1zM60 19h1v1h-1zM6 20h1v1h-1zM15 20h1v1h-1zM19 20h1v1h-1zM56 21h1v1h-1zM61 21h2v1h-2zM4 22h1v1h-1zM9 22h1v1h-1zM55 22h1v1h-1zM3 23h2v1h-2zM9 23h1v1h-1zM36 23h1v1h-1zM40 23h1v1h-1zM49 23h1v1h-1zM26 24h1v1h-1zM58 24h1v1h-1zM53 25h2v1h-2zM12 26h1v1h-1zM15 26h2v1h-2zM24 26h1v1h-1zM30 26h1v1h-1zM60 26h1v1h-1zM50 28h1v1h-1zM56 28h1v1h-1zM60 28h1v1h-1zM56 29h1v1h-1zM26 30h1v1h-1zM46 30h1v1h-1zM61 30h2v1h-2zM53 31h1v1h-1zM55 31h1v1h-1zM8 33h1v1h-1zM38 35h1v1h-1zM50 35h1v1h-1zM54 35h1v1h-1zM9 36h1v1h-1zM23 36h1v1h-1zM55 36h1v1h-1zM3 37h1v1h-1zM35 38h1v1h-1zM51 38h2v1h-2zM60 38h1v1h-1zM18 39h1v1h-1zM44 39h1v1h-1zM0 40h2v1h-2zM23 40h1v1h-1zM41 40h1v1h-1zM51 40h1v1h-1zM59 40h1v1h-1zM40 41h1v1h-1zM48 41h1v1h-1zM57 42h1v1h-1zM39 44h1v1h-1zM10 45h1v1h-1zM5 46h1v1h-1zM15 46h1v1h-1zM18 46h1v1h-1zM30 46h1v1h-1zM52 46h2v1h-2zM5 47h2v1h-2zM15 47h1v1h-1zM51 47h1v1h-1zM54 47h1v1h-1zM41 48h1v1h-1zM50 48h2v1h-2zM12 49h1v1h-1zM23 49h1v1h-1zM60 49h1v1h-1zM28 50h1v1h-1zM35 50h1v1h-1zM48 50h1v1h-1zM61 50h2v1h-2zM14 51h1v1h-1zM38 51h1v1h-1zM40 51h1v1h-1zM47 51h2v1h-2zM55 51h1v1h-1zM2 52h1v1h-1zM12 52h1v1h-1zM38 52h1v1h-1zM46 52h1v1h-1zM53 52h1v1h-1zM3 53h1v1h-1zM14 53h1v1h-1zM25 53h1v1h-1zM31 53h1v1h-1zM46 53h1v1h-1zM52 53h1v1h-1zM25 54h1v1h-1zM35 54h1v1h-1zM47 54h1v1h-1zM5 55h2v1h-2zM22 55h1v1h-1zM31 55h1v1h-1zM36 55h1v1h-1zM51 55h1v1h-1zM21 56h1v1h-1zM28 56h2v1h-2zM42 57h1v1h-1zM24 58h1v1h-1zM12 59h1v1h-1zM40 59h1v1h-1zM19 60h1v1h-1zM26 60h1v1h-1zM28 60h1v1h-1zM38 60h1v1h-1zM49 60h1v1h-1zM6 61h1v1h-1zM21 61h1v1h-1zM30 61h1v1h-1zM50 61h1v1h-1zM6 62h1v1h-1zM21 62h1v1h-1zM30 62h1v1h-1zM50 62h1v1h-1z"/>
<path fill="#c0ff40" d="M11 0h1v1h-1zM16 0h1v1h-1zM20 0h1v1h-1zM41 0h1v1h-1zM46 0h1v1h-1zM49 0h3v1h-3zM55 0h1v1h-1zM11 1h1v1h-1zM16 1h1v1h-1zM20 1h1v1h-1zM41 1h1v1h-1zM46 1h1v1h-1zM49 1h3v1h-3zM55 1h1v1h-1zM10 2h1v1h-1zM18 2h2v1h-2zM46 2h1v1h-1zM48 2h2v1h-2zM51 2h1v1h-1zM55 2h1v1h-1zM10 3h1v1h-1zM18 3h1v1h-1zM46 3h1v1h-1zM49 3h1v1h-1zM11 4h1v1h-1zM14 4h2v1h-2zM17 4h2v1h-2zM45 4h2v1h-2zM51 4h1v1h-1zM11 5h1v1h-1zM17 5h1v1h-1zM42 5h3v1h-3zM48 5h2v1h-2zM51 5h1v1h-1zM8 6h1v1h-1zM40 6h1v1h-1zM45 6h1v1h-1zM48 6h1v1h-1zM51 6h1v1h-1zM8 7h1v1h-1zM11 7h1v1h-1zM14 7h1v1h-1zM20 7h2v1h-2zM33 7h1v1h-1zM50 7h1v1h-1zM53 7h1v1h-1zM55 7h1v1h-1zM6 8h2v1h-2zM14 8h1v1h-1zM19 8h3v1h-3zM37 8h1v1h-1zM41 8h1v1h-1zM45 8h1v1h-1zM49 8h3v1h-3zM55 8h1v1h-1zM13 9h1v1h-1zM15 9h1v1h-1zM20 9h1v1h-1zM42 9h1v1h-1zM50 9h2v1h-2zM55 9h1v1h-1zM2 10h2v1h-2zM11 10h1v1h-1zM20 10h1v1h-1zM22 10h1v1h-1zM24 10h4v1h-4zM31 10h1v1h-1zM36 10h1v1h-1zM42 10h1v1h-1zM46 10h5v1h-5zM55 10h2v1h-2zM58 10h1v1h-1zM60 10h1v1h-1zM0 11h2v1h-2zM4 11h2v1h-2zM7 11h1v1h-1zM10 11h1v1h-1zM13 11h1v1h-1zM19 11h1v1h-1zM31 11h1v1h-1zM39 11h2v1h-2zM45 11h1v1h-1zM49 11h1v1h-1zM56 11h1v1h-1zM58 11h2v1h-2zM14 12h1v1h-1zM17 12h2v1h-2zM28 12h1v1h-1zM32 12h1v1h-1zM36 12h2v1h-2zM39 12h2v1h-2zM43 12h1v1h-1zM48 12h1v1h-1zM58 12h1v1h-1zM60 12h1v1h-1zM9 13h1v1h-1zM11 13h1v1h-1zM15 13h4v1h-4zM20 13h2v1h-2zM23 13h1v1h-1zM26 13h1v1h-1zM42 13h1v1h-1zM48 13h1v1h-1zM51 13h1v1h-1zM56 13h1v1h-1zM4 14h1v1h-1zM7 14h2v1h-2zM12 14h1v1h-1zM18 14h5v1h-5zM26 14h3v1h-3zM31 14h1v1h-1zM37 14h1v1h-1zM40 14h1v1h-1zM42 14h2v1h-2zM50 14h1v1h-1zM55 14h1v1h-1zM58 14h1v1h-1zM60 14h3v1h-3zM4 15h1v1h-1zM9 15h1v1h-1zM13 15h1v1h-1zM17 15h1v1h-1zM21 15h1v1h-1zM27 15h1v1h-1zM48 15h1v1h-1zM55 15h2v1h-2zM58 15h1v1h-1zM61 15h2v1h-2zM0 16h2v1h-2zM13 16h1v1h-1zM27 16h1v1h-1zM55 16h2v1h-2zM58 16h1v1h-1zM61 16h2v1h-2zM4 17h2v1h-2zM12 17h2v1h-2zM15 17h1v1h-1zM22 17h1v1h-1zM25 17h4v1h-4zM31 17h2v1h-2zM39 17h1v1h-1zM41 17h1v1h-1zM55 17h2v1h-2zM58 17h1v1h-1zM61 17h2v1h-2zM2 18h3v1h-3zM12 18h3v1h-3zM21 18h1v1h-1zM23 18h1v1h-1zM29 18h1v1h-1zM31 18h5v1h-5zM37 18h1v1h-1zM40 18h1v1h-1zM56 18h1v1h-1zM58 18h1v1h-1zM61 18h2v1h-2zM2 19h1v1h-1zM8 19h1v1h-1zM11 19h1v1h-1zM14 19h1v1h-1zM23 19h1v1h-1zM27 19h1v1h-1zM32 19h1v1h-1zM36 19h1v1h-1zM39 19h1v1h-1zM42 19h1v1h-1zM49 19h2v1h-2zM56 19h1v1h-1zM0 20h2v1h-2zM7 20h4v1h-4zM13 20h2v1h-2zM25 20h1v1h-1zM32 20h2v1h-2zM39 20h1v1h-1zM43 20h1v1h-1zM45 20h2v1h-2zM49 20h1v1h-1zM58 20h1v1h-1zM60 20h3v1h-3zM7 21h2v1h-2zM13 21h3v1h-3zM18 21h1v1h-1zM22 21h1v1h-1zM30 21h1v1h-1zM32 21h4v1h-4zM40 21h2v1h-2zM45 21h1v1h-1zM51 21h1v1h-1zM58 21h1v1h-1zM60 21h1v1h-1zM10 22h1v1h-1zM14 22h1v1h-1zM17 22h1v1h-1zM21 22h1v1h-1zM34 22h2v1h-2zM39 22h1v1h-1zM48 22h1v1h-1zM52 22h1v1h-1zM60 22h3v1h-3zM13 23h1v1h-1zM18 23h2v1h-2zM30 23h1v1h-1zM34 23h1v1h-1zM41 23h1v1h-1zM44 23h1v1h-1zM47 23h1v1h-1zM59 23h1v1h-1zM61 23h2v1h-2zM10 24h1v1h-1zM41 24h1v1h-1zM61 24h2v1h-2zM10 25h1v1h-1zM17 25h1v1h-1zM20 25h1v1h-1zM46 25h1v1h-1zM10 26h1v1h-1zM13 26h2v1h-2zM17 26h1v1h-1zM40 26h1v1h-1zM44 26h1v1h-1zM47 26h1v1h-1zM49 26h1v1h-1zM55 26h1v1h-1zM10 27h1v1h-1zM14 27h4v1h-4zM19 27h1v1h-1zM40 27h1v1h-1zM44 27h2v1h-2zM50 27h2v1h-2zM53 27h1v1h-1zM12 28h1v1h-1zM14 28h1v1h-1zM17 28h1v1h-1zM40 28h1v1h-1zM46 28h2v1h-2zM52 28h1v1h-1zM54 28h1v1h-1zM18 29h1v1h-1zM41 29h1v1h-1zM50 29h1v1h-1zM52 29h2v1h-2zM21 30h1v1h-1zM23 30h1v1h-1zM41 30h2v1h-2zM52 30h1v1h-1zM54 30h2v1h-2zM10 31h2v1h-2zM14 31h1v1h-1zM17 31h2v1h-2zM34 31h1v1h-1zM38 31h1v1h-1zM40 31h1v1h-1zM49 31h2v1h-2zM52 31h1v1h-1zM12 32h1v1h-1zM17 32h5v1h-5zM34 32h1v1h-1zM38 32h1v1h-1zM51 32h1v1h-1zM53 32h1v1h-1zM55 32h1v1h-1zM7 33h1v1h-1zM18 33h1v1h-1zM20 33h2v1h-2zM40 33h1v1h-1zM46 33h1v1h-1zM49 33h1v1h-1zM51 33h1v1h-1zM53 33h1v1h-1zM18 34h1v1h-1zM21 34h3v1h-3zM31 34h2v1h-2zM40 34h1v1h-1zM49 34h2v1h-2zM52 34h2v1h-2zM18 35h1v1h-1zM21 35h2v1h-2zM51 35h1v1h-1zM10 36h1v1h-1zM12 36h1v1h-1zM19 36h1v1h-1zM44 36h1v1h-1zM52 36h1v1h-1zM8 37h1v1h-1zM12 37h1v1h-1zM14 37h1v1h-1zM18 37h1v1h-1zM40 37h1v1h-1zM31 38h2v1h-2zM50 38h1v1h-1zM11 39h2v1h-2zM17 39h1v1h-1zM19 39h2v1h-2zM22 39h1v1h-1zM48 39h4v1h-4zM55 39h1v1h-1zM6 40h1v1h-1zM11 40h2v1h-2zM14 40h1v1h-1zM18 40h1v1h-1zM21 40h1v1h-1zM26 40h3v1h-3zM31 40h1v1h-1zM33 40h2v1h-2zM37 40h1v1h-1zM55 40h2v1h-2zM58 40h1v1h-1zM60 40h1v1h-1zM0 41h2v1h-2zM8 41h1v1h-1zM17 41h1v1h-1zM21 41h1v1h-1zM23 41h2v1h-2zM29 41h2v1h-2zM44 41h4v1h-4zM53 41h2v1h-2zM59 41h1v1h-1zM5 42h1v1h-1zM9 42h2v1h-2zM13 42h2v1h-2zM19 42h1v1h-1zM30 42h1v1h-1zM45 42h5v1h-5zM53 42h1v1h-1zM5 43h1v1h-1zM12 43h1v1h-1zM14 43h1v1h-1zM20 43h1v1h-1zM47 43h1v1h-1zM49 43h1v1h-1zM51 43h1v1h-1zM54 43h1v1h-1zM58 43h1v1h-1zM5 44h1v1h-1zM23 44h1v1h-1zM26 44h2v1h-2zM36 44h1v1h-1zM41 44h1v1h-1zM45 44h1v1h-1zM55 44h2v1h-2zM4 45h1v1h-1zM6 45h1v1h-1zM8 45h1v1h-1zM11 45h1v1h-1zM20 45h2v1h-2zM27 45h1v1h-1zM41 45h2v1h-2zM44 45h1v1h-1zM52 45h1v1h-1zM54 45h1v1h-1zM56 45h1v1h-1zM59 45h1v1h-1zM0 46h5v1h-5zM10 46h1v1h-1zM20 46h1v1h-1zM25 46h1v1h-1zM28 46h1v1h-1zM33 46h1v1h-1zM41 46h2v1h-2zM51 46h1v1h-1zM55 46h2v1h-2zM60 46h1v1h-1zM10 47h1v1h-1zM23 47h1v1h-1zM26 47h1v1h-1zM28 47h1v1h-1zM41 47h3v1h-3zM56 47h1v1h-1zM58 47h1v1h-1zM60 47h1v1h-1zM2 48h1v1h-1zM5 48h2v1h-2zM10 48h1v1h-1zM12 48h2v1h-2zM15 48h1v1h-1zM22 48h1v1h-1zM39 48h1v1h-1zM42 48h1v1h-1zM61 48h2v1h-2zM0 49h4v1h-4zM5 49h1v1h-1zM8 49h1v1h-1zM10 49h2v1h-2zM19 49h2v1h-2zM26 49h1v1h-1zM31 49h1v1h-1zM33 49h2v1h-2zM39 49h1v1h-1zM42 49h2v1h-2zM55 49h1v1h-1zM58 49h1v1h-1zM0 50h2v1h-2zM7 50h4v1h-4zM14 50h1v1h-1zM19 50h1v1h-1zM27 50h1v1h-1zM29 50h1v1h-1zM31 50h1v1h-1zM34 50h1v1h-1zM38 50h2v1h-2zM55 50h1v1h-1zM0 51h3v1h-3zM4 51h3v1h-3zM8 51h2v1h-2zM13 51h1v1h-1zM21 51h1v1h-1zM27 51h1v1h-1zM32 51h2v1h-2zM35 51h1v1h-1zM39 51h1v1h-1zM43 51h1v1h-1zM46 51h1v1h-1zM60 51h3v1h-3zM22 52h1v1h-1zM28 52h4v1h-4zM34 52h1v1h-1zM36 52h1v1h-1zM45 52h1v1h-1zM56 52h1v1h-1zM58 52h1v1h-1zM60 52h3v1h-3zM7 53h1v1h-1zM27 53h1v1h-1zM29 53h1v1h-1zM32 53h3v1h-3zM41 53h2v1h-2zM55 53h2v1h-2zM60 53h3v1h-3zM28 54h1v1h-1zM30 54h1v1h-1zM41 54h1v1h-1zM43 54h1v1h-1zM45 54h1v1h-1zM56 54h2v1h-2zM59 54h4v1h-4zM0 55h3v1h-3zM7 55h4v1h-4zM14 55h4v1h-4zM26 55h1v1h-1zM30 55h1v1h-1zM32 55h1v1h-1zM39 55h2v1h-2zM44 55h1v1h-1zM46 55h1v1h-1zM49 55h2v1h-2zM53 55h1v1h-1zM56 55h1v1h-1zM61 55h2v1h-2zM10 56h2v1h-2zM13 56h1v1h-1zM15 56h5v1h-5zM40 56h1v1h-1zM44 56h4v1h-4zM52 56h4v1h-4zM54 57h1v1h-1zM10 58h3v1h-3zM14 58h5v1h-5zM20 58h2v1h-2zM40 58h1v1h-1zM43 58h1v1h-1zM47 58h1v1h-1zM49 58h1v1h-1zM52 58h1v1h-1zM11 59h1v1h-1zM23 59h1v1h-1zM41 59h1v1h-1zM45 59h1v1h-1zM54 59h1v1h-1zM10 60h1v1h-1zM12 60h1v1h-1zM14 60h1v1h-1zM20 60h3v1h-3zM40 60h1v1h-1zM46 60h2v1h-2zM51 60h4v1h-4zM14 61h5v1h-5zM20 61h1v1h-1zM22 61h3v1h-3zM48 61h1v1h-1zM51 61h5v1h-5zM14 62h5v1h-5zM20 62h1v1h-1zM22 62h3v1h-3zM48 62h1v1h-1zM51 62h5v1h-5z"/>
<path fill="#0cd0fa" d="M13 0h1v1h-1zM13 1h1v1h-1zM44 2h1v1h-1zM42 3h2v1h-2zM13 4h1v1h-1zM48 4h1v1h-1zM13 7h1v1h-1zM16 7h1v1h-1zM47 7h2v1h-2zM38 11h1v1h-1zM61 11h2v1h-2zM13 12h1v1h-1zM0 13h2v1h-2zM4 13h1v1h-1zM7 13h1v1h-1zM12 13h1v1h-1zM28 13h1v1h-1zM38 13h1v1h-1zM58 13h5v1h-5zM16 14h2v1h-2zM37 15h2v1h-2zM40 15h2v1h-2zM7 16h1v1h-1zM14 16h1v1h-1zM38 16h1v1h-1zM40 16h2v1h-2zM14 17h1v1h-1zM40 17h1v1h-1zM55 19h1v1h-1zM58 23h1v1h-1zM60 23h1v1h-1zM13 28h1v1h-1zM42 28h1v1h-1zM43 32h2v1h-2zM42 34h3v1h-3zM42 35h2v1h-2zM47 35h3v1h-3zM15 37h1v1h-1zM44 37h1v1h-1zM11 38h1v1h-1zM13 38h1v1h-1zM15 38h2v1h-2zM15 40h3v1h-3zM44 40h1v1h-1zM15 41h2v1h-2zM61 41h2v1h-2zM3 42h1v1h-1zM28 42h1v1h-1zM34 42h2v1h-2zM61 42h2v1h-2zM3 43h1v1h-1zM32 43h1v1h-1zM34 43h2v1h-2zM48 43h1v1h-1zM2 44h1v1h-1zM32 44h1v1h-1zM34 44h1v1h-1zM37 44h1v1h-1zM40 44h1v1h-1zM7 47h1v1h-1zM35 47h1v1h-1zM4 48h1v1h-1zM7 48h1v1h-1zM35 48h1v1h-1zM43 48h1v1h-1zM35 49h1v1h-1zM19 55h1v1h-1zM13 58h1v1h-1zM23 58h1v1h-1zM13 59h1v1h-1zM13 60h1v1h-1zM23 60h1v1h-1zM11 61h1v1h-1zM13 61h1v1h-1zM41 61h2v1h-2zM11 62h1v1h-1zM13 62h1v1h-1zM41 62h2v1h-2z"/>
<path fill="#e80000" d="M32 0h1v1h-1zM57 0h1v1h-1zM61 0h2v1h-2zM32 1h1v1h-1zM57 1h1v1h-1zM61 1h2v1h-2zM3 2h1v1h-1zM25 2h2v1h-2zM28 2h3v1h-3zM34 2h1v1h-1zM56 2h2v1h-2zM2 3h1v1h-1zM9 3h1v1h-1zM24 3h1v1h-1zM30 3h1v1h-1zM33 3h1v1h-1zM36 3h1v1h-1zM56 3h2v1h-2zM31 4h3v1h-3zM35 4h2v1h-2zM56 4h1v1h-1zM24 5h1v1h-1zM26 5h1v1h-1zM28 5h4v1h-4zM34 5h3v1h-3zM57 5h1v1h-1zM24 6h1v1h-1zM28 6h1v1h-1zM32 6h2v1h-2zM57 6h1v1h-1zM28 7h1v1h-1zM54 7h1v1h-1zM56 7h1v1h-1zM60 7h1v1h-1zM9 8h1v1h-1zM24 8h1v1h-1zM29 8h1v1h-1zM3 9h1v1h-1zM8 9h1v1h-1zM24 9h4v1h-4zM30 9h2v1h-2zM33 9h1v1h-1zM53 9h1v1h-1zM56 9h1v1h-1zM60 9h3v1h-3zM54 12h1v1h-1zM49 16h1v1h-1zM53 16h1v1h-1zM49 17h1v1h-1zM53 17h1v1h-1zM47 18h1v1h-1zM47 19h2v1h-2zM53 19h1v1h-1zM57 19h1v1h-1zM54 21h1v1h-1zM57 21h1v1h-1zM25 22h1v1h-1zM57 22h1v1h-1zM54 23h1v1h-1zM3 24h1v1h-1zM5 24h2v1h-2zM8 24h2v1h-2zM30 24h2v1h-2zM33 24h3v1h-3zM38 24h1v1h-1zM44 24h1v1h-1zM48 24h1v1h-1zM2 25h1v1h-1zM9 25h1v1h-1zM22 25h1v1h-1zM27 25h1v1h-1zM39 25h1v1h-1zM55 25h1v1h-1zM57 25h1v1h-1zM2 26h1v1h-1zM5 26h1v1h-1zM9 26h1v1h-1zM57 26h1v1h-1zM9 27h1v1h-1zM25 27h1v1h-1zM28 27h1v1h-1zM37 27h1v1h-1zM57 27h2v1h-2zM2 28h1v1h-1zM5 28h3v1h-3zM27 28h1v1h-1zM37 28h1v1h-1zM39 28h1v1h-1zM2 29h1v1h-1zM5 29h1v1h-1zM8 29h1v1h-1zM39 29h1v1h-1zM58 29h2v1h-2zM61 29h2v1h-2zM2 30h2v1h-2zM5 30h1v1h-1zM9 30h1v1h-1zM24 30h1v1h-1zM32 30h1v1h-1zM34 30h1v1h-1zM37 30h1v1h-1zM4 31h2v1h-2zM9 31h1v1h-1zM24 31h1v1h-1zM33 31h1v1h-1zM39 31h1v1h-1zM61 31h2v1h-2zM0 32h2v1h-2zM4 32h1v1h-1zM6 32h1v1h-1zM30 32h1v1h-1zM33 32h1v1h-1zM39 32h1v1h-1zM3 33h2v1h-2zM6 33h1v1h-1zM9 33h1v1h-1zM24 33h1v1h-1zM31 33h2v1h-2zM39 33h1v1h-1zM2 34h1v1h-1zM5 34h1v1h-1zM24 34h1v1h-1zM30 34h1v1h-1zM4 35h2v1h-2zM24 35h1v1h-1zM36 35h1v1h-1zM56 35h1v1h-1zM3 36h3v1h-3zM35 36h1v1h-1zM54 36h1v1h-1zM61 36h2v1h-2zM27 37h2v1h-2zM30 37h1v1h-1zM56 37h1v1h-1zM24 38h1v1h-1zM25 39h1v1h-1zM28 39h2v1h-2zM31 39h3v1h-3zM53 39h1v1h-1zM60 39h1v1h-1zM24 44h1v1h-1zM46 44h1v1h-1zM57 44h1v1h-1zM44 46h1v1h-1zM18 47h2v1h-2zM19 48h1v1h-1zM24 48h1v1h-1zM54 48h1v1h-1zM57 48h1v1h-1zM16 49h2v1h-2zM53 50h1v1h-1zM59 50h1v1h-1zM57 51h1v1h-1zM9 53h1v1h-1zM16 53h2v1h-2zM19 53h1v1h-1zM39 53h1v1h-1zM50 53h1v1h-1zM7 54h1v1h-1zM12 54h1v1h-1zM21 54h1v1h-1zM23 54h1v1h-1zM36 54h1v1h-1zM48 54h1v1h-1zM25 55h1v1h-1zM2 56h3v1h-3zM7 56h1v1h-1zM9 56h1v1h-1zM35 56h1v1h-1zM37 56h1v1h-1zM57 56h1v1h-1zM0 57h4v1h-4zM5 57h2v1h-2zM19 57h1v1h-1zM21 57h2v1h-2zM25 57h3v1h-3zM44 57h1v1h-1zM48 57h1v1h-1zM51 57h1v1h-1zM56 57h1v1h-1zM59 57h4v1h-4zM27 58h1v1h-1zM29 58h1v1h-1zM59 58h1v1h-1zM29 59h1v1h-1zM50 59h1v1h-1zM57 59h2v1h-2zM61 59h2v1h-2zM7 60h1v1h-1zM9 60h1v1h-1zM39 60h1v1h-1zM57 60h1v1h-1zM61 60h2v1h-2zM0 61h2v1h-2zM9 61h1v1h-1zM29 61h1v1h-1zM31 61h1v1h-1zM36 61h1v1h-1zM57 61h1v1h-1zM59 61h2v1h-2zM0 62h2v1h-2zM9 62h1v1h-1zM29 62h1v1h-1zM31 62h1v1h-1zM36 62h1v1h-1zM57 62h1v1h-1zM59 62h2v1h-2z"/>
<path fill="#80ff80" d="M42 0h3v1h-3zM47 0h2v1h-2zM52 0h1v1h-1zM42 1h3v1h-3zM47 1h2v1h-2zM52 1h1v1h-1zM11 2h1v1h-1zM14 2h1v1h-1zM16 2h2v1h-2zM41 2h1v1h-1zM47 2h1v1h-1zM11 3h1v1h-1zM14 3h1v1h-1zM16 3h2v1h-2zM19 3h1v1h-1zM47 3h1v1h-1zM19 4h1v1h-1zM47 4h1v1h-1zM15 6h1v1h-1zM21 6h1v1h-1zM41 6h2v1h-2zM10 7h1v1h-1zM12 7h1v1h-1zM18 7h2v1h-2zM41 7h1v1h-1zM49 7h1v1h-1zM51 7h1v1h-1zM10 8h1v1h-1zM12 8h1v1h-1zM17 8h2v1h-2zM18 9h2v1h-2zM7 10h2v1h-2zM12 10h3v1h-3zM16 10h1v1h-1zM18 10h2v1h-2zM21 10h1v1h-1zM32 10h4v1h-4zM59 10h1v1h-1zM61 10h2v1h-2zM2 11h2v1h-2zM15 11h4v1h-4zM28 11h1v1h-1zM32 11h1v1h-1zM36 11h2v1h-2zM41 11h1v1h-1zM47 11h2v1h-2zM60 11h1v1h-1zM7 12h2v1h-2zM10 12h1v1h-1zM15 12h2v1h-2zM33 12h3v1h-3zM38 12h1v1h-1zM41 12h1v1h-1zM10 13h1v1h-1zM19 13h1v1h-1zM36 13h1v1h-1zM2 14h2v1h-2zM10 14h1v1h-1zM32 14h4v1h-4zM41 14h1v1h-1zM45 14h4v1h-4zM56 14h1v1h-1zM6 15h1v1h-1zM11 15h2v1h-2zM22 15h1v1h-1zM28 15h1v1h-1zM31 15h2v1h-2zM35 15h2v1h-2zM39 15h1v1h-1zM42 15h1v1h-1zM2 16h2v1h-2zM10 16h3v1h-3zM22 16h1v1h-1zM28 16h1v1h-1zM32 16h6v1h-6zM39 16h1v1h-1zM42 16h1v1h-1zM46 16h1v1h-1zM2 17h2v1h-2zM8 17h1v1h-1zM11 17h1v1h-1zM33 17h5v1h-5zM42 17h1v1h-1zM46 17h1v1h-1zM7 18h5v1h-5zM26 18h3v1h-3zM38 18h1v1h-1zM42 18h1v1h-1zM51 18h2v1h-2zM3 19h2v1h-2zM7 19h1v1h-1zM9 19h2v1h-2zM13 19h1v1h-1zM21 19h2v1h-2zM31 19h1v1h-1zM34 19h2v1h-2zM37 19h2v1h-2zM40 19h1v1h-1zM43 19h1v1h-1zM45 19h1v1h-1zM51 19h1v1h-1zM22 20h3v1h-3zM31 20h1v1h-1zM34 20h2v1h-2zM40 20h1v1h-1zM57 20h1v1h-1zM6 21h1v1h-1zM10 21h1v1h-1zM19 21h1v1h-1zM31 21h1v1h-1zM39 21h1v1h-1zM15 22h2v1h-2zM19 22h2v1h-2zM46 22h2v1h-2zM50 22h1v1h-1zM20 23h1v1h-1zM26 23h2v1h-2zM29 23h1v1h-1zM43 23h1v1h-1zM20 24h1v1h-1zM18 26h1v1h-1zM23 26h1v1h-1zM41 26h3v1h-3zM52 26h1v1h-1zM18 27h1v1h-1zM23 27h1v1h-1zM41 27h3v1h-3zM46 27h2v1h-2zM52 27h1v1h-1zM61 27h2v1h-2zM11 28h1v1h-1zM15 28h2v1h-2zM18 28h1v1h-1zM44 28h2v1h-2zM53 28h1v1h-1zM23 29h1v1h-1zM15 31h1v1h-1zM19 31h3v1h-3zM45 31h1v1h-1zM10 32h2v1h-2zM14 32h3v1h-3zM46 32h1v1h-1zM49 32h1v1h-1zM10 33h1v1h-1zM12 33h1v1h-1zM14 33h1v1h-1zM16 33h2v1h-2zM41 33h1v1h-1zM45 33h1v1h-1zM47 33h1v1h-1zM52 33h1v1h-1zM55 33h1v1h-1zM10 34h1v1h-1zM12 34h1v1h-1zM14 34h1v1h-1zM16 34h2v1h-2zM19 34h2v1h-2zM41 34h1v1h-1zM46 34h1v1h-1zM10 35h1v1h-1zM12 35h1v1h-1zM14 35h4v1h-4zM19 35h2v1h-2zM52 35h1v1h-1zM11 36h1v1h-1zM13 36h1v1h-1zM15 36h3v1h-3zM41 36h1v1h-1zM47 36h1v1h-1zM51 36h1v1h-1zM11 37h1v1h-1zM16 37h2v1h-2zM19 37h1v1h-1zM41 37h1v1h-1zM49 37h1v1h-1zM12 38h1v1h-1zM18 38h2v1h-2zM41 38h1v1h-1zM46 38h1v1h-1zM48 38h2v1h-2zM61 38h2v1h-2zM15 39h2v1h-2zM21 39h1v1h-1zM42 39h1v1h-1zM19 40h2v1h-2zM42 40h2v1h-2zM45 40h1v1h-1zM50 40h1v1h-1zM61 40h2v1h-2zM2 41h1v1h-1zM6 41h2v1h-2zM11 41h2v1h-2zM14 41h1v1h-1zM26 41h2v1h-2zM33 41h2v1h-2zM36 41h3v1h-3zM49 41h1v1h-1zM51 41h1v1h-1zM55 41h2v1h-2zM58 41h1v1h-1zM0 42h2v1h-2zM6 42h1v1h-1zM15 42h4v1h-4zM26 42h2v1h-2zM39 42h2v1h-2zM43 42h1v1h-1zM50 42h2v1h-2zM54 42h2v1h-2zM59 42h1v1h-1zM0 43h2v1h-2zM19 43h1v1h-1zM23 43h1v1h-1zM26 43h2v1h-2zM40 43h1v1h-1zM42 43h1v1h-1zM55 43h2v1h-2zM60 43h1v1h-1zM0 44h2v1h-2zM28 44h1v1h-1zM60 44h1v1h-1zM14 45h1v1h-1zM19 45h1v1h-1zM28 45h1v1h-1zM31 45h1v1h-1zM33 45h1v1h-1zM40 45h1v1h-1zM47 45h1v1h-1zM51 45h1v1h-1zM55 45h1v1h-1zM60 45h3v1h-3zM14 46h1v1h-1zM16 46h2v1h-2zM22 46h1v1h-1zM27 46h1v1h-1zM32 46h1v1h-1zM34 46h1v1h-1zM38 46h1v1h-1zM47 46h1v1h-1zM61 46h2v1h-2zM0 47h5v1h-5zM11 47h1v1h-1zM14 47h1v1h-1zM22 47h1v1h-1zM27 47h1v1h-1zM33 47h1v1h-1zM36 47h1v1h-1zM45 47h2v1h-2zM55 47h1v1h-1zM61 47h2v1h-2zM0 48h2v1h-2zM11 48h1v1h-1zM14 48h1v1h-1zM38 48h1v1h-1zM7 49h1v1h-1zM32 49h1v1h-1zM37 49h2v1h-2zM41 49h1v1h-1zM22 50h1v1h-1zM40 50h1v1h-1zM42 50h1v1h-1zM7 51h1v1h-1zM18 51h2v1h-2zM36 51h1v1h-1zM41 51h2v1h-2zM45 51h1v1h-1zM0 52h2v1h-2zM18 52h1v1h-1zM26 52h2v1h-2zM33 52h1v1h-1zM35 52h1v1h-1zM28 53h1v1h-1zM57 53h2v1h-2zM42 54h1v1h-1zM33 55h1v1h-1zM41 55h3v1h-3zM45 55h1v1h-1zM47 55h1v1h-1zM60 55h1v1h-1zM14 56h1v1h-1zM41 56h1v1h-1zM43 56h1v1h-1zM60 56h1v1h-1zM20 57h1v1h-1zM53 57h1v1h-1zM41 58h1v1h-1zM53 58h1v1h-1zM10 59h1v1h-1zM42 59h1v1h-1zM11 60h1v1h-1zM43 60h3v1h-3zM55 60h2v1h-2zM10 61h1v1h-1zM27 61h1v1h-1zM38 61h1v1h-1zM40 61h1v1h-1zM45 61h3v1h-3zM10 62h1v1h-1zM27 62h1v1h-1zM38 62h1v1h-1zM40 62h1v1h-1zM45 62h3v1h-3z"/>
<path fill="#30ffd0" d="M45 0h1v1h-1zM45 1h1v1h-1zM15 2h1v1h-1zM42 2h2v1h-2zM45 2h1v1h-1zM15 3h1v1h-1zM41 3h1v1h-1zM45 3h1v1h-1zM48 3h1v1h-1zM10 4h1v1h-1zM41 4h4v1h-4zM49 4h1v1h-1zM10 6h1v1h-1zM13 6h1v1h-1zM16 6h1v1h-1zM43 6h2v1h-2zM17 7h1v1h-1zM42 7h2v1h-2zM46 7h1v1h-1zM13 8h1v1h-1zM16 8h1v1h-1zM42 8h3v1h-3zM46 8h3v1h-3zM16 9h2v1h-2zM46 9h4v1h-4zM4 10h1v1h-1zM6 10h1v1h-1zM15 10h1v1h-1zM17 10h1v1h-1zM33 11h3v1h-3zM42 11h1v1h-1zM42 12h1v1h-1zM45 12h1v1h-1zM61 12h2v1h-2zM6 13h1v1h-1zM8 13h1v1h-1zM22 13h1v1h-1zM27 13h1v1h-1zM29 13h2v1h-2zM33 13h1v1h-1zM49 13h1v1h-1zM55 13h1v1h-1zM15 14h1v1h-1zM49 14h1v1h-1zM2 15h2v1h-2zM10 15h1v1h-1zM14 15h1v1h-1zM33 15h2v1h-2zM43 15h1v1h-1zM6 16h1v1h-1zM8 16h2v1h-2zM43 16h1v1h-1zM45 16h1v1h-1zM7 17h1v1h-1zM9 17h2v1h-2zM38 17h1v1h-1zM43 17h1v1h-1zM45 17h1v1h-1zM22 18h1v1h-1zM43 18h1v1h-1zM55 18h1v1h-1zM46 19h1v1h-1zM52 19h1v1h-1zM55 20h1v1h-1zM42 21h1v1h-1zM13 22h1v1h-1zM18 22h1v1h-1zM41 22h5v1h-5zM51 22h1v1h-1zM28 23h1v1h-1zM32 23h2v1h-2zM42 23h1v1h-1zM56 23h1v1h-1zM42 24h1v1h-1zM53 26h1v1h-1zM13 27h1v1h-1zM23 28h1v1h-1zM41 28h1v1h-1zM43 28h1v1h-1zM13 29h1v1h-1zM13 30h1v1h-1zM41 31h4v1h-4zM46 31h3v1h-3zM23 32h1v1h-1zM41 32h2v1h-2zM45 32h1v1h-1zM47 32h2v1h-2zM52 32h1v1h-1zM11 33h1v1h-1zM13 33h1v1h-1zM15 33h1v1h-1zM23 33h1v1h-1zM42 33h3v1h-3zM48 33h1v1h-1zM11 34h1v1h-1zM15 34h1v1h-1zM45 34h1v1h-1zM47 34h2v1h-2zM51 34h1v1h-1zM55 34h1v1h-1zM11 35h1v1h-1zM41 35h1v1h-1zM44 35h3v1h-3zM42 36h2v1h-2zM48 36h2v1h-2zM43 37h1v1h-1zM46 37h2v1h-2zM17 38h1v1h-1zM43 38h3v1h-3zM47 38h1v1h-1zM46 40h4v1h-4zM3 41h2v1h-2zM22 41h1v1h-1zM28 41h1v1h-1zM31 41h2v1h-2zM35 41h1v1h-1zM42 41h1v1h-1zM50 41h1v1h-1zM60 41h1v1h-1zM2 42h1v1h-1zM4 42h1v1h-1zM7 42h2v1h-2zM11 42h2v1h-2zM21 42h4v1h-4zM31 42h3v1h-3zM36 42h1v1h-1zM41 42h1v1h-1zM56 42h1v1h-1zM58 42h1v1h-1zM60 42h1v1h-1zM2 43h1v1h-1zM4 43h1v1h-1zM6 43h3v1h-3zM15 43h4v1h-4zM22 43h1v1h-1zM28 43h1v1h-1zM31 43h1v1h-1zM33 43h1v1h-1zM36 43h3v1h-3zM44 43h1v1h-1zM61 43h2v1h-2zM4 44h1v1h-1zM6 44h1v1h-1zM8 44h1v1h-1zM22 44h1v1h-1zM31 44h1v1h-1zM33 44h1v1h-1zM35 44h1v1h-1zM38 44h1v1h-1zM43 44h1v1h-1zM61 44h2v1h-2zM0 45h4v1h-4zM12 45h1v1h-1zM16 45h2v1h-2zM22 45h1v1h-1zM32 45h1v1h-1zM34 45h2v1h-2zM38 45h1v1h-1zM48 45h2v1h-2zM7 46h3v1h-3zM19 46h1v1h-1zM31 46h1v1h-1zM35 46h1v1h-1zM37 46h1v1h-1zM40 46h1v1h-1zM48 46h2v1h-2zM8 47h2v1h-2zM31 47h2v1h-2zM34 47h1v1h-1zM37 47h2v1h-2zM40 47h1v1h-1zM48 47h1v1h-1zM3 48h1v1h-1zM8 48h2v1h-2zM31 48h4v1h-4zM36 48h1v1h-1zM40 48h1v1h-1zM45 48h3v1h-3zM4 49h1v1h-1zM9 49h1v1h-1zM13 49h2v1h-2zM36 49h1v1h-1zM40 49h1v1h-1zM45 49h2v1h-2zM41 50h1v1h-1zM22 51h1v1h-1zM34 51h1v1h-1zM19 52h1v1h-1zM32 52h1v1h-1zM55 52h1v1h-1zM26 53h1v1h-1zM58 54h1v1h-1zM13 55h1v1h-1zM18 55h1v1h-1zM20 55h1v1h-1zM34 55h1v1h-1zM52 55h1v1h-1zM23 56h1v1h-1zM42 56h1v1h-1zM42 58h1v1h-1zM54 58h1v1h-1zM41 60h2v1h-2zM12 61h1v1h-1zM43 61h2v1h-2zM12 62h1v1h-1zM43 62h2v1h-2z"/>
<path fill="#ff4800" d="M56 0h1v1h-1zM56 1h1v1h-1zM4 2h1v1h-1zM9 2h1v1h-1zM31 2h1v1h-1zM5 3h1v1h-1zM7 3h1v1h-1zM27 3h1v1h-1zM61 3h2v1h-2zM2 4h1v1h-1zM7 4h1v1h-1zM27 4h1v1h-1zM34 4h1v1h-1zM37 4h1v1h-1zM54 4h1v1h-1zM61 4h2v1h-2zM3 5h1v1h-1zM27 5h1v1h-1zM37 5h1v1h-1zM53 5h1v1h-1zM7 6h1v1h-1zM26 6h2v1h-2zM31 6h1v1h-1zM3 7h2v1h-2zM6 7h1v1h-1zM23 7h1v1h-1zM27 7h1v1h-1zM29 7h1v1h-1zM37 7h1v1h-1zM54 8h1v1h-1zM57 8h3v1h-3zM2 9h1v1h-1zM10 9h1v1h-1zM34 9h1v1h-1zM39 9h2v1h-2zM54 9h1v1h-1zM9 10h1v1h-1zM41 10h1v1h-1zM53 10h1v1h-1zM21 11h1v1h-1zM23 11h1v1h-1zM51 11h2v1h-2zM21 12h1v1h-1zM23 12h1v1h-1zM57 12h1v1h-1zM29 14h1v1h-1zM57 14h1v1h-1zM29 15h2v1h-2zM53 15h1v1h-1zM57 15h1v1h-1zM59 15h1v1h-1zM18 16h1v1h-1zM30 16h1v1h-1zM57 16h1v1h-1zM59 16h1v1h-1zM18 17h1v1h-1zM57 17h1v1h-1zM16 18h2v1h-2zM54 18h1v1h-1zM54 19h1v1h-1zM11 21h2v1h-2zM23 22h2v1h-2zM29 22h1v1h-1zM54 22h1v1h-1zM59 22h1v1h-1zM7 23h1v1h-1zM11 23h2v1h-2zM22 23h1v1h-1zM57 23h1v1h-1zM22 24h1v1h-1zM29 24h1v1h-1zM32 24h1v1h-1zM49 24h3v1h-3zM36 25h1v1h-1zM38 25h1v1h-1zM48 25h1v1h-1zM51 25h1v1h-1zM6 26h1v1h-1zM3 27h5v1h-5zM29 27h1v1h-1zM31 27h1v1h-1zM34 27h1v1h-1zM36 27h1v1h-1zM57 28h1v1h-1zM7 29h1v1h-1zM14 29h2v1h-2zM22 29h1v1h-1zM24 29h1v1h-1zM27 29h1v1h-1zM38 29h1v1h-1zM48 29h1v1h-1zM51 29h1v1h-1zM57 29h1v1h-1zM15 30h2v1h-2zM33 30h1v1h-1zM2 31h1v1h-1zM6 31h1v1h-1zM27 31h1v1h-1zM32 31h1v1h-1zM54 31h1v1h-1zM24 32h1v1h-1zM31 32h1v1h-1zM37 32h1v1h-1zM56 32h1v1h-1zM30 33h1v1h-1zM37 33h1v1h-1zM4 34h1v1h-1zM9 34h1v1h-1zM27 34h1v1h-1zM60 34h3v1h-3zM37 35h1v1h-1zM25 36h1v1h-1zM27 36h1v1h-1zM37 36h1v1h-1zM53 36h1v1h-1zM4 37h2v1h-2zM7 37h1v1h-1zM32 37h2v1h-2zM35 37h2v1h-2zM25 38h1v1h-1zM29 38h1v1h-1zM9 39h1v1h-1zM9 40h1v1h-1zM53 40h1v1h-1zM10 41h1v1h-1zM52 41h1v1h-1zM47 44h1v1h-1zM44 47h1v1h-1zM49 47h1v1h-1zM57 47h1v1h-1zM25 48h1v1h-1zM29 48h1v1h-1zM59 48h1v1h-1zM24 49h1v1h-1zM47 49h1v1h-1zM53 49h2v1h-2zM24 50h1v1h-1zM11 51h1v1h-1zM24 51h2v1h-2zM29 51h1v1h-1zM54 51h1v1h-1zM11 52h1v1h-1zM41 52h1v1h-1zM5 53h1v1h-1zM10 53h1v1h-1zM15 53h1v1h-1zM36 53h1v1h-1zM40 53h1v1h-1zM49 53h1v1h-1zM4 54h1v1h-1zM8 54h2v1h-2zM18 54h2v1h-2zM22 54h1v1h-1zM31 54h1v1h-1zM49 54h1v1h-1zM51 54h1v1h-1zM57 55h1v1h-1zM0 56h2v1h-2zM32 56h1v1h-1zM8 57h1v1h-1zM12 57h1v1h-1zM14 57h4v1h-4zM23 57h1v1h-1zM28 57h2v1h-2zM47 57h1v1h-1zM55 57h1v1h-1zM8 58h1v1h-1zM8 59h1v1h-1zM15 59h2v1h-2zM22 59h1v1h-1zM48 59h1v1h-1zM34 60h1v1h-1zM3 61h2v1h-2zM34 61h1v1h-1zM3 62h2v1h-2zM34 62h1v1h-1z"/>
<path fill="#0c84ff" d="M13 2h1v1h-1zM13 3h1v1h-1zM44 3h1v1h-1zM15 7h1v1h-1zM44 7h2v1h-2zM15 8h1v1h-1zM2 13h2v1h-2zM31 13h2v1h-2zM34 13h2v1h-2zM37 13h1v1h-1zM44 14h1v1h-1zM7 15h2v1h-2zM54 26h1v1h-1zM13 31h1v1h-1zM13 32h1v1h-1zM13 34h1v1h-1zM13 35h1v1h-1zM13 37h1v1h-1zM42 37h1v1h-1zM45 37h1v1h-1zM48 37h1v1h-1zM42 38h1v1h-1zM37 42h2v1h-2zM3 44h1v1h-1zM7 44h1v1h-1zM14 44h1v1h-1zM7 45h1v1h-1zM37 45h1v1h-1zM46 45h1v1h-1zM45 46h1v1h-1zM37 48h1v1h-1zM26 54h1v1h-1z"/>
</svg></div>
<div class="cb" style="left:1663.8px;top:75px;width:46px;height:569px"></div>
<svg id="ov" width="1772" height="717" viewBox="0 0 1772 717"><rect x="96.1" y="75.1" width="606.3" height="567.1" fill="none" stroke="#200" stroke-opacity=".7" stroke-width="1.4"/>
<rect x="735.1" y="75.5" width="44.8" height="568.0" fill="none" stroke="#1a1a1a" stroke-opacity=".8" stroke-width="1"/>
<text class="k" x="188.5" y="668.0" font-size="23.5" textLength="23.0" lengthAdjust="spacingAndGlyphs" text-anchor="middle">10</text>
<text class="k" x="88.4" y="171.0" font-size="23.5" textLength="23.0" lengthAdjust="spacingAndGlyphs" text-anchor="end">10</text>
<text class="k" x="287.9" y="668.0" font-size="23.5" textLength="23.0" lengthAdjust="spacingAndGlyphs" text-anchor="middle">20</text>
<text class="k" x="88.4" y="263.9" font-size="23.5" textLength="23.0" lengthAdjust="spacingAndGlyphs" text-anchor="end">20</text>
<text class="k" x="387.3" y="668.0" font-size="23.5" textLength="23.0" lengthAdjust="spacingAndGlyphs" text-anchor="middle">30</text>
<text class="k" x="88.4" y="356.9" font-size="23.5" textLength="23.0" lengthAdjust="spacingAndGlyphs" text-anchor="end">30</text>
<text class="k" x="486.7" y="668.0" font-size="23.5" textLength="23.0" lengthAdjust="spacingAndGlyphs" text-anchor="middle">40</text>
<text class="k" x="88.4" y="449.9" font-size="23.5" textLength="23.0" lengthAdjust="spacingAndGlyphs" text-anchor="end">40</text>
<text class="k" x="586.2" y="668.0" font-size="23.5" textLength="23.0" lengthAdjust="spacingAndGlyphs" text-anchor="middle">50</text>
<text class="k" x="88.4" y="542.9" font-size="23.5" textLength="23.0" lengthAdjust="spacingAndGlyphs" text-anchor="end">50</text>
<text class="k" x="685.6" y="668.0" font-size="23.5" textLength="23.0" lengthAdjust="spacingAndGlyphs" text-anchor="middle">60</text>
<text class="k" x="88.4" y="635.9" font-size="23.5" textLength="23.0" lengthAdjust="spacingAndGlyphs" text-anchor="end">60</text>
<text class="k" x="782.4" y="82.6" font-size="23.5" textLength="41.0" lengthAdjust="spacingAndGlyphs">0.65</text>
<text class="k" x="782.4" y="153.6" font-size="23.5" textLength="41.0" lengthAdjust="spacingAndGlyphs">0.64</text>
<text class="k" x="782.4" y="224.6" font-size="23.5" textLength="41.0" lengthAdjust="spacingAndGlyphs">0.63</text>
<text class="k" x="782.4" y="295.6" font-size="23.5" textLength="41.0" lengthAdjust="spacingAndGlyphs">0.62</text>
<text class="k" x="782.4" y="366.6" font-size="23.5" textLength="41.0" lengthAdjust="spacingAndGlyphs">0.61</text>
<text class="k" x="782.4" y="437.6" font-size="23.5" textLength="29.5" lengthAdjust="spacingAndGlyphs">0.6</text>
<text class="k" x="782.4" y="508.6" font-size="23.5" textLength="41.0" lengthAdjust="spacingAndGlyphs">0.59</text>
<text class="k" x="782.4" y="579.6" font-size="23.5" textLength="41.0" lengthAdjust="spacingAndGlyphs">0.58</text>
<text class="k" x="782.4" y="650.6" font-size="23.5" textLength="41.0" lengthAdjust="spacingAndGlyphs">0.57</text>
<path d="M190.5 642.3v-4M190.5 75.0v4M96.0 163.3h4M702.5 163.3h-4M289.9 642.3v-4M289.9 75.0v4M96.0 256.3h4M702.5 256.3h-4M389.3 642.3v-4M389.3 75.0v4M96.0 349.3h4M702.5 349.3h-4M488.7 642.3v-4M488.7 75.0v4M96.0 442.3h4M702.5 442.3h-4M588.2 642.3v-4M588.2 75.0v4M96.0 535.3h4M702.5 535.3h-4M687.6 642.3v-4M687.6 75.0v4M96.0 628.3h4M702.5 628.3h-4M734.6 146.5h4M780.4 146.5h-4M734.6 217.5h4M780.4 217.5h-4M734.6 288.5h4M780.4 288.5h-4M734.6 359.5h4M780.4 359.5h-4M734.6 430.5h4M780.4 430.5h-4M734.6 501.5h4M780.4 501.5h-4M734.6 572.5h4M780.4 572.5h-4" stroke="#1a1a1a" stroke-opacity=".6" stroke-width="1" fill="none"/>
<rect x="1026.1" y="74.9" width="605.5" height="567.1" fill="none" stroke="#200" stroke-opacity=".7" stroke-width="1.4"/>
<rect x="1664.3" y="75.5" width="45.0" height="568.0" fill="none" stroke="#1a1a1a" stroke-opacity=".8" stroke-width="1"/>
<text class="k" x="1118.3" y="668.0" font-size="23.5" textLength="23.0" lengthAdjust="spacingAndGlyphs" text-anchor="middle">10</text>
<text class="k" x="1018.4" y="170.8" font-size="23.5" textLength="23.0" lengthAdjust="spacingAndGlyphs" text-anchor="end">10</text>
<text class="k" x="1217.6" y="668.0" font-size="23.5" textLength="23.0" lengthAdjust="spacingAndGlyphs" text-anchor="middle">20</text>
<text class="k" x="1018.4" y="263.8" font-size="23.5" textLength="23.0" lengthAdjust="spacingAndGlyphs" text-anchor="end">20</text>
<text class="k" x="1316.9" y="668.0" font-size="23.5" textLength="23.0" lengthAdjust="spacingAndGlyphs" text-anchor="middle">30</text>
<text class="k" x="1018.4" y="356.8" font-size="23.5" textLength="23.0" lengthAdjust="spacingAndGlyphs" text-anchor="end">30</text>
<text class="k" x="1416.2" y="668.0" font-size="23.5" textLength="23.0" lengthAdjust="spacingAndGlyphs" text-anchor="middle">40</text>
<text class="k" x="1018.4" y="449.8" font-size="23.5" textLength="23.0" lengthAdjust="spacingAndGlyphs" text-anchor="end">40</text>
<text class="k" x="1515.5" y="668.0" font-size="23.5" textLength="23.0" lengthAdjust="spacingAndGlyphs" text-anchor="middle">50</text>
<text class="k" x="1018.4" y="542.7" font-size="23.5" textLength="23.0" lengthAdjust="spacingAndGlyphs" text-anchor="end">50</text>
<text class="k" x="1614.8" y="668.0" font-size="23.5" textLength="23.0" lengthAdjust="spacingAndGlyphs" text-anchor="middle">60</text>
<text class="k" x="1018.4" y="635.7" font-size="23.5" textLength="23.0" lengthAdjust="spacingAndGlyphs" text-anchor="end">60</text>
<text class="k" x="1711.8" y="82.6" font-size="23.5" textLength="41.0" lengthAdjust="spacingAndGlyphs">0.65</text>
<text class="k" x="1711.8" y="153.6" font-size="23.5" textLength="41.0" lengthAdjust="spacingAndGlyphs">0.64</text>
<text class="k" x="1711.8" y="224.6" font-size="23.5" textLength="41.0" lengthAdjust="spacingAndGlyphs">0.63</text>
<text class="k" x="1711.8" y="295.6" font-size="23.5" textLength="41.0" lengthAdjust="spacingAndGlyphs">0.62</text>
<text class="k" x="1711.8" y="366.6" font-size="23.5" textLength="41.0" lengthAdjust="spacingAndGlyphs">0.61</text>
<text class="k" x="1711.8" y="437.6" font-size="23.5" textLength="29.5" lengthAdjust="spacingAndGlyphs">0.6</text>
<text class="k" x="1711.8" y="508.6" font-size="23.5" textLength="41.0" lengthAdjust="spacingAndGlyphs">0.59</text>
<text class="k" x="1711.8" y="579.6" font-size="23.5" textLength="41.0" lengthAdjust="spacingAndGlyphs">0.58</text>
<text class="k" x="1711.8" y="650.6" font-size="23.5" textLength="41.0" lengthAdjust="spacingAndGlyphs">0.57</text>
<path d="M1120.3 642.1v-4M1120.3 74.8v4M1026.0 163.1h4M1631.7 163.1h-4M1219.6 642.1v-4M1219.6 74.8v4M1026.0 256.1h4M1631.7 256.1h-4M1318.9 642.1v-4M1318.9 74.8v4M1026.0 349.1h4M1631.7 349.1h-4M1418.2 642.1v-4M1418.2 74.8v4M1026.0 442.1h4M1631.7 442.1h-4M1517.5 642.1v-4M1517.5 74.8v4M1026.0 535.1h4M1631.7 535.1h-4M1616.8 642.1v-4M1616.8 74.8v4M1026.0 628.1h4M1631.7 628.1h-4M1663.8 146.5h4M1709.8 146.5h-4M1663.8 217.5h4M1709.8 217.5h-4M1663.8 288.5h4M1709.8 288.5h-4M1663.8 359.5h4M1709.8 359.5h-4M1663.8 430.5h4M1709.8 430.5h-4M1663.8 501.5h4M1709.8 501.5h-4M1663.8 572.5h4M1709.8 572.5h-4" stroke="#1a1a1a" stroke-opacity=".6" stroke-width="1" fill="none"/>
<text class="h" x="285.0" y="42.0" font-size="42" textLength="206.0" lengthAdjust="spacingAndGlyphs">Nostalgia</text>
<text class="h" x="1192.5" y="47.2" font-size="43" textLength="320.0" lengthAdjust="spacingAndGlyphs">Non-nostalgia</text>
<text class="h" x="311.0" y="708.5" font-size="35" textLength="152.0" lengthAdjust="spacingAndGlyphs">Channels</text>
<text class="h" x="1251.0" y="704.7" font-size="30" textLength="139.5" lengthAdjust="spacingAndGlyphs">Channels</text>
<text class="h" x="36.4" y="459.0" font-size="30.5" textLength="127.0" lengthAdjust="spacingAndGlyphs" transform="rotate(-90 36.4 459.0)">Channels</text>
<text class="h" x="977.7" y="456.0" font-size="30.5" textLength="123.0" lengthAdjust="spacingAndGlyphs" transform="rotate(-90 977.7 456.0)">Channels</text></svg>
</body></html>
